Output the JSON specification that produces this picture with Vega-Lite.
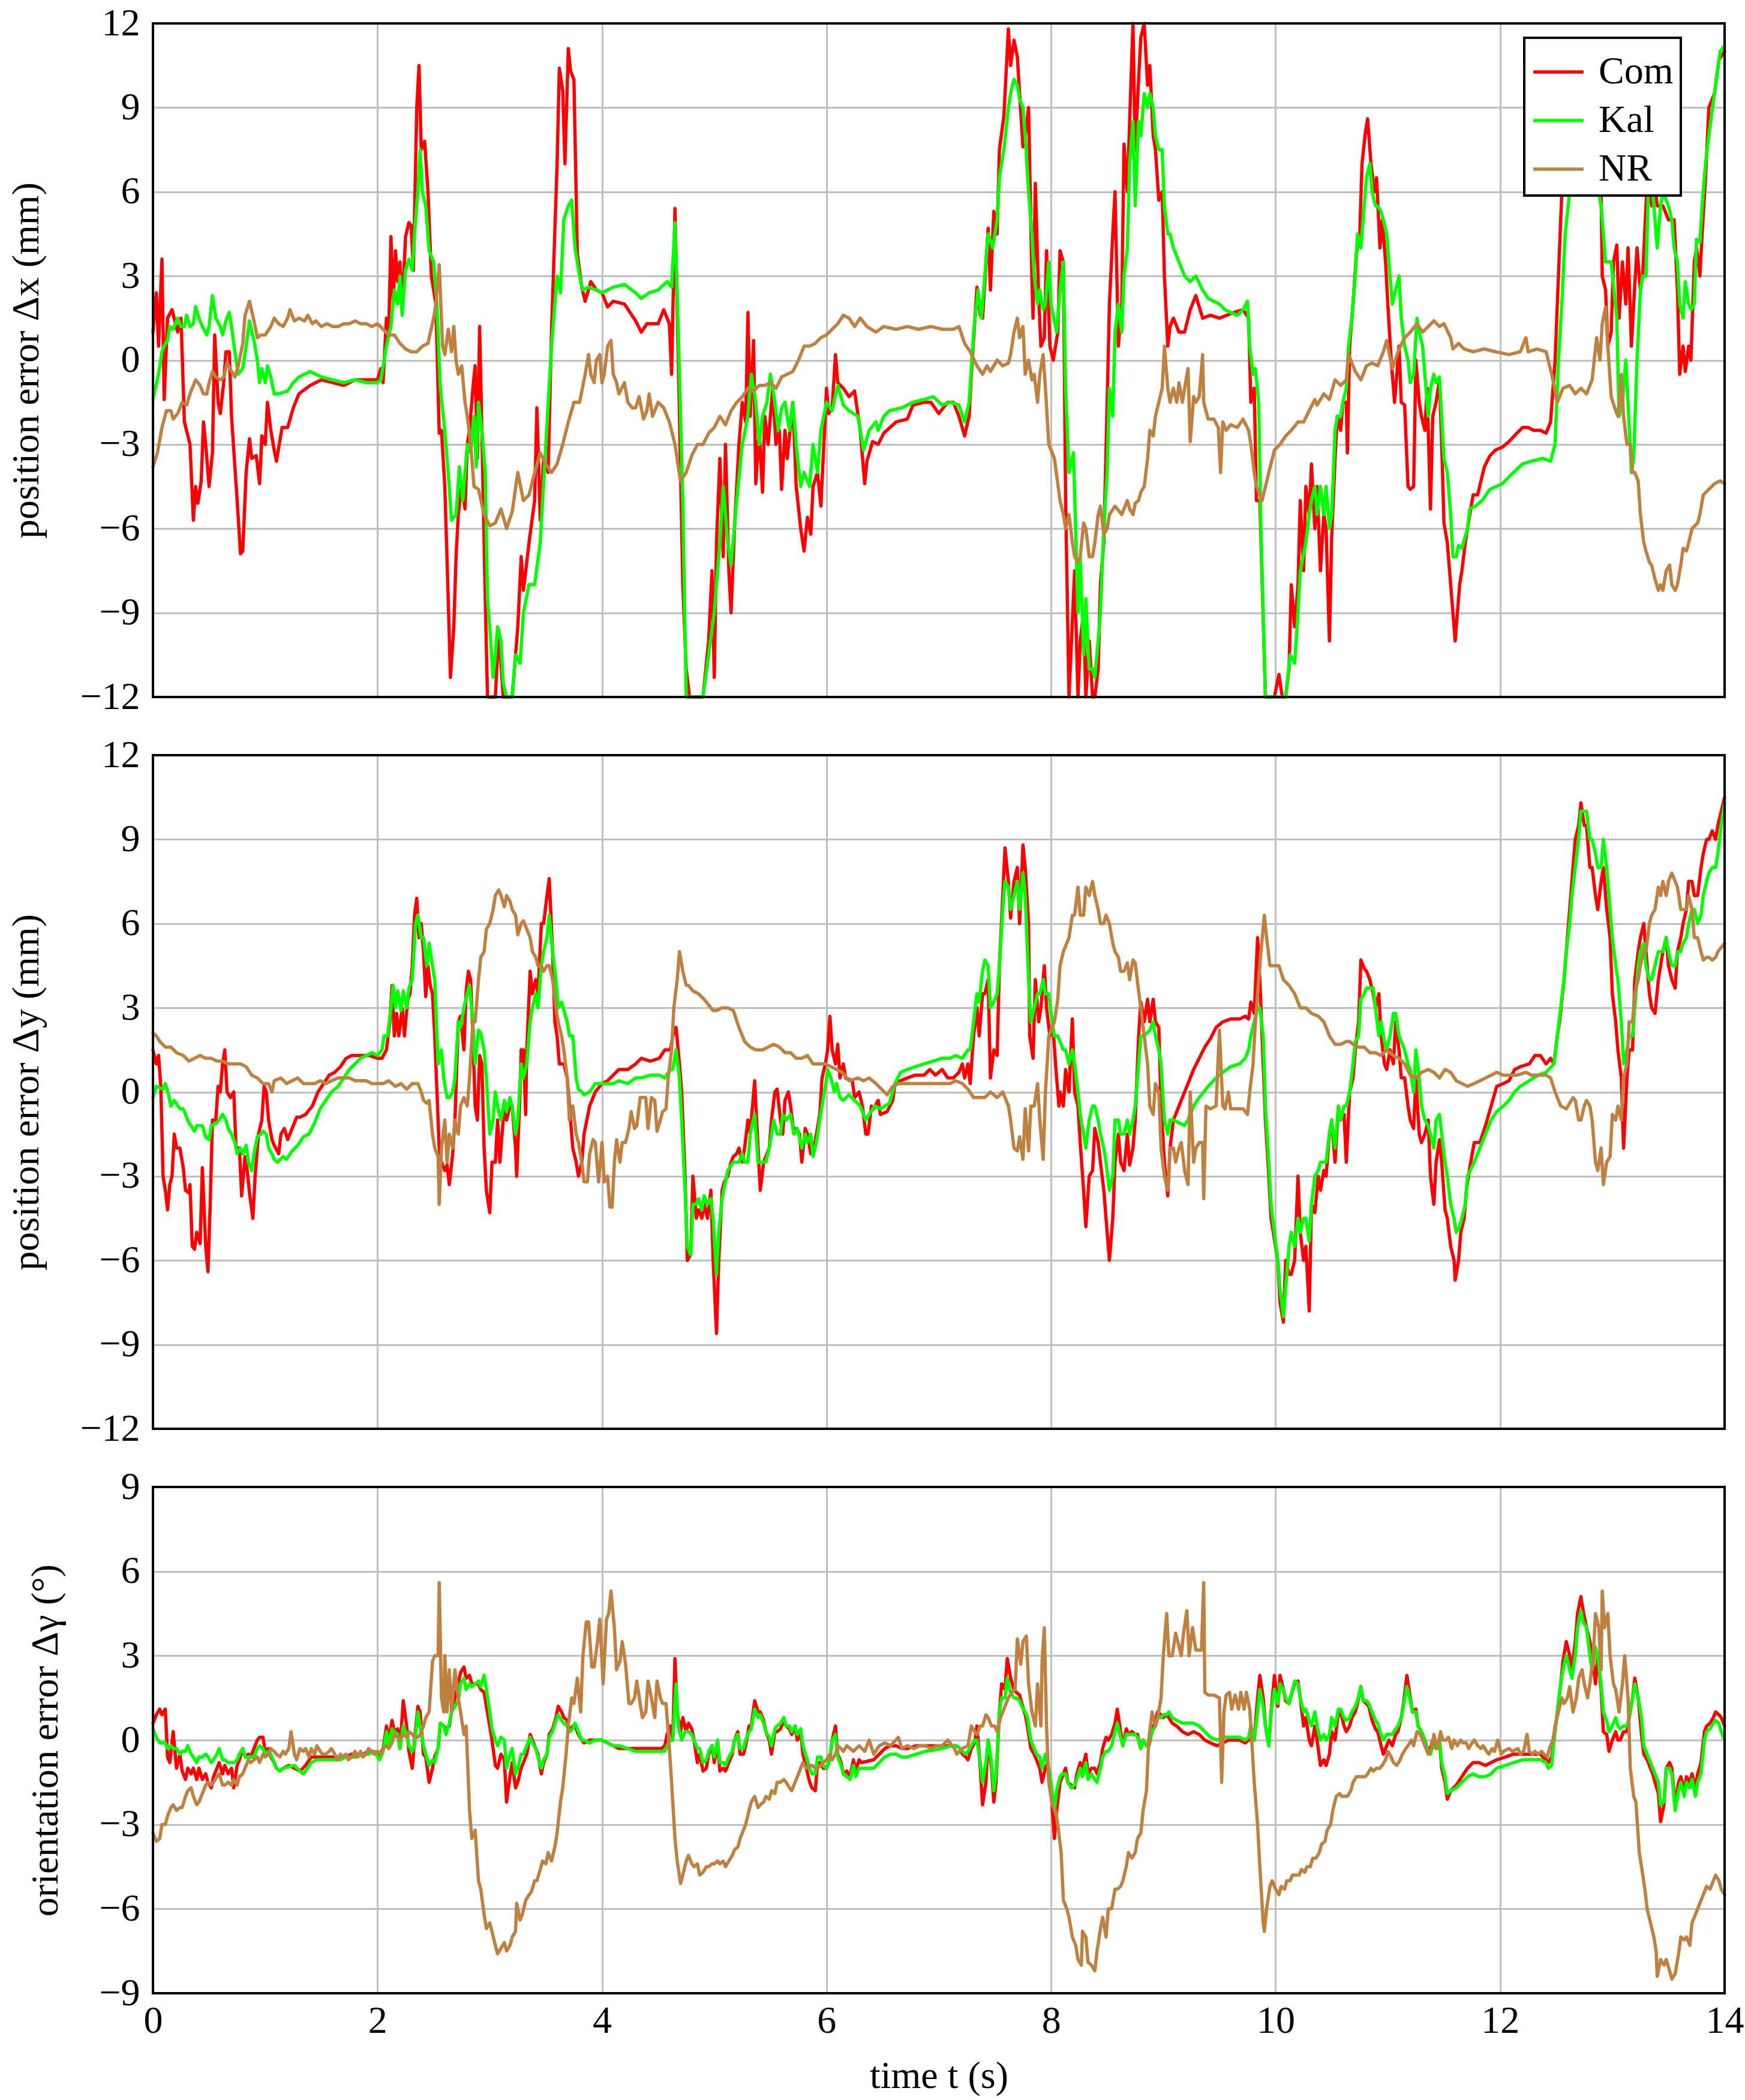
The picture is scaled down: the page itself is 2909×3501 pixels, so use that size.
{
  "$schema": "https://vega.github.io/schema/vega-lite/v6.json",
  "background": "white",
  "padding": {"left": 10, "top": 5, "right": 20, "bottom": 10},
  "config": {
    "font": "Liberation Serif",
    "view": {"stroke": "black", "strokeWidth": 4},
    "style": {"cell": {"strokeForeground": true}},
    "axis": {
      "labelFont": "Liberation Serif", "labelFontSize": 64, "labelColor": "black",
      "titleFont": "Liberation Serif", "titleFontSize": 64, "titleFontWeight": "normal", "titleColor": "black",
      "grid": true, "gridColor": "#bfbfbf", "gridWidth": 3,
      "domain": false, "ticks": false, "tickSize": 0,
      "labelFlush": false, "labelOverlap": false, "labelBound": false
    },
    "axisX": {"labelPadding": 14, "titlePadding": 28},
    "axisY": {"labelPadding": 22, "titlePadding": 56},
    "line": {"strokeWidth": 5.5, "clip": true, "strokeJoin": "round", "strokeCap": "round"},
    "legend": {"strokeWidth": 4}
  },
  "datasets": {
    "x_com": [
      {"t":0,"v":1.0},{"t":0.03,"v":2.4},{"t":0.05,"v":0.5},{"t":0.08,"v":3.6},{"t":0.1,"v":-1.4},{"t":0.13,"v":1.5},{"t":0.17,"v":1.8},{"t":0.22,"v":1.0},{"t":0.25,"v":1.5},{"t":0.28,"v":-2.2},{"t":0.33,"v":-3.0},{"t":0.36,"v":-5.7},{"t":0.38,"v":-4.5},{"t":0.4,"v":-5.1},{"t":0.43,"v":-4.3},{"t":0.45,"v":-2.2},{"t":0.47,"v":-3.0},{"t":0.5,"v":-4.5},{"t":0.53,"v":-3.3},{"t":0.55,"v":0.9},{"t":0.58,"v":-1.5},{"t":0.6,"v":-1.9},{"t":0.63,"v":-0.8},{"t":0.65,"v":0.3},{"t":0.68,"v":0.3},{"t":0.7,"v":-2.0},{"t":0.75,"v":-5.0},{"t":0.78,"v":-6.9},{"t":0.8,"v":-6.8},{"t":0.83,"v":-4.0},{"t":0.86,"v":-2.8},{"t":0.88,"v":-3.5},{"t":0.92,"v":-3.4},{"t":0.95,"v":-4.4},{"t":0.97,"v":-2.7},{"t":1.0,"v":-3.0},{"t":1.02,"v":-1.5},{"t":1.05,"v":-2.5},{"t":1.08,"v":-3.2},{"t":1.1,"v":-3.6},{"t":1.15,"v":-2.4},{"t":1.2,"v":-2.4},{"t":1.25,"v":-1.7},{"t":1.3,"v":-1.2},{"t":1.4,"v":-0.9},{"t":1.5,"v":-0.7},{"t":1.6,"v":-0.8},{"t":1.7,"v":-0.9},{"t":1.8,"v":-0.7},{"t":1.9,"v":-0.7},{"t":2.0,"v":-0.7},{"t":2.03,"v":-0.3},{"t":2.05,"v":-0.8},{"t":2.08,"v":1.5},{"t":2.1,"v":1.0},{"t":2.12,"v":4.4},{"t":2.14,"v":2.0},{"t":2.16,"v":3.9},{"t":2.18,"v":2.8},{"t":2.2,"v":3.5},{"t":2.22,"v":1.8},{"t":2.25,"v":4.4},{"t":2.28,"v":4.9},{"t":2.3,"v":4.8},{"t":2.32,"v":3.2},{"t":2.35,"v":9.0},{"t":2.37,"v":10.5},{"t":2.39,"v":7.5},{"t":2.42,"v":7.8},{"t":2.45,"v":6.0},{"t":2.48,"v":3.0},{"t":2.52,"v":2.0},{"t":2.55,"v":-2.6},{"t":2.57,"v":-2.5},{"t":2.6,"v":-4.5},{"t":2.63,"v":-8.5},{"t":2.65,"v":-11.3},{"t":2.68,"v":-9.5},{"t":2.7,"v":-7.0},{"t":2.72,"v":-5.5},{"t":2.75,"v":-4.4},{"t":2.78,"v":-5.3},{"t":2.8,"v":-3.0},{"t":2.82,"v":-2.5},{"t":2.85,"v":-1.0},{"t":2.87,"v":-0.2},{"t":2.89,"v":-3.5},{"t":2.91,"v":1.2},{"t":2.93,"v":-2.5},{"t":2.96,"v":-8.5},{"t":2.98,"v":-12},{"t":3.05,"v":-12},{"t":3.08,"v":-9.6},{"t":3.12,"v":-12},{"t":3.2,"v":-12},{"t":3.25,"v":-9.5},{"t":3.28,"v":-7.0},{"t":3.3,"v":-8.2},{"t":3.35,"v":-6.5},{"t":3.4,"v":-5.0},{"t":3.42,"v":-1.7},{"t":3.45,"v":-5.7},{"t":3.48,"v":-3.5},{"t":3.52,"v":-4.0},{"t":3.55,"v":1.0},{"t":3.6,"v":7.0},{"t":3.62,"v":10.4},{"t":3.65,"v":9.6},{"t":3.67,"v":7.0},{"t":3.7,"v":11.1},{"t":3.72,"v":10.3},{"t":3.75,"v":10.0},{"t":3.78,"v":3.8},{"t":3.82,"v":2.6},{"t":3.85,"v":2.1},{"t":3.9,"v":2.8},{"t":3.95,"v":2.5},{"t":4.0,"v":2.4},{"t":4.05,"v":1.9},{"t":4.1,"v":2.1},{"t":4.2,"v":2.0},{"t":4.3,"v":1.4},{"t":4.35,"v":1.0},{"t":4.4,"v":1.3},{"t":4.5,"v":1.3},{"t":4.55,"v":1.8},{"t":4.6,"v":1.3},{"t":4.62,"v":-0.5},{"t":4.65,"v":5.4},{"t":4.68,"v":0},{"t":4.72,"v":-8.0},{"t":4.75,"v":-11},{"t":4.78,"v":-12},{"t":4.9,"v":-12},{"t":4.95,"v":-10},{"t":4.98,"v":-7.5},{"t":5.0,"v":-11.3},{"t":5.02,"v":-6.5},{"t":5.05,"v":-3.5},{"t":5.08,"v":-7.0},{"t":5.1,"v":-3.0},{"t":5.13,"v":-7.5},{"t":5.15,"v":-9.0},{"t":5.18,"v":-6.0},{"t":5.22,"v":-3.0},{"t":5.25,"v":-1.5},{"t":5.28,"v":-2.2},{"t":5.3,"v":1.7},{"t":5.32,"v":-2.0},{"t":5.35,"v":0.7},{"t":5.37,"v":-4.4},{"t":5.4,"v":-2.5},{"t":5.43,"v":-4.7},{"t":5.45,"v":-2.0},{"t":5.48,"v":-3.0},{"t":5.52,"v":-1.0},{"t":5.55,"v":-3.0},{"t":5.58,"v":-2.5},{"t":5.6,"v":-4.6},{"t":5.63,"v":-2.5},{"t":5.65,"v":-3.5},{"t":5.7,"v":-1.5},{"t":5.73,"v":-4.5},{"t":5.77,"v":-6.0},{"t":5.8,"v":-6.8},{"t":5.83,"v":-5.6},{"t":5.86,"v":-6.2},{"t":5.88,"v":-4.5},{"t":5.92,"v":-4.0},{"t":5.95,"v":-5.2},{"t":6.0,"v":-1.0},{"t":6.02,"v":-1.9},{"t":6.05,"v":-1.7},{"t":6.08,"v":0.2},{"t":6.1,"v":-0.8},{"t":6.15,"v":-1.0},{"t":6.2,"v":-1.3},{"t":6.25,"v":-1.1},{"t":6.3,"v":-2.5},{"t":6.34,"v":-4.4},{"t":6.36,"v":-3.6},{"t":6.41,"v":-2.9},{"t":6.46,"v":-3.0},{"t":6.51,"v":-2.6},{"t":6.62,"v":-2.2},{"t":6.72,"v":-2.1},{"t":6.77,"v":-1.6},{"t":6.87,"v":-1.5},{"t":6.93,"v":-1.5},{"t":7.0,"v":-1.9},{"t":7.08,"v":-1.5},{"t":7.13,"v":-1.5},{"t":7.18,"v":-2.0},{"t":7.23,"v":-2.7},{"t":7.27,"v":-2.0},{"t":7.29,"v":-0.5},{"t":7.34,"v":2.6},{"t":7.37,"v":1.6},{"t":7.39,"v":1.5},{"t":7.44,"v":4.7},{"t":7.46,"v":2.5},{"t":7.49,"v":5.3},{"t":7.52,"v":4.5},{"t":7.54,"v":7.5},{"t":7.58,"v":8.7},{"t":7.62,"v":11.8},{"t":7.64,"v":10.5},{"t":7.67,"v":11.4},{"t":7.7,"v":10.8},{"t":7.72,"v":9.5},{"t":7.75,"v":7.6},{"t":7.77,"v":8.0},{"t":7.8,"v":9.0},{"t":7.83,"v":2.8},{"t":7.84,"v":1.5},{"t":7.86,"v":6.3},{"t":7.89,"v":2.2},{"t":7.91,"v":0.5},{"t":7.94,"v":0.8},{"t":7.96,"v":3.9},{"t":7.99,"v":0.5},{"t":8.02,"v":0.0},{"t":8.06,"v":1.0},{"t":8.08,"v":3.9},{"t":8.11,"v":3.5},{"t":8.13,"v":-5},{"t":8.16,"v":-12},{"t":8.21,"v":-7.5},{"t":8.24,"v":-12},{"t":8.26,"v":-10.0},{"t":8.29,"v":-9.0},{"t":8.31,"v":-12},{"t":8.34,"v":-10},{"t":8.37,"v":-12},{"t":8.39,"v":-12},{"t":8.42,"v":-11},{"t":8.44,"v":-8.0},{"t":8.47,"v":-6.5},{"t":8.5,"v":-1.5},{"t":8.52,"v":2.0},{"t":8.55,"v":4.5},{"t":8.57,"v":6.0},{"t":8.6,"v":0.5},{"t":8.63,"v":2.0},{"t":8.65,"v":7.7},{"t":8.68,"v":6.0},{"t":8.7,"v":8.5},{"t":8.73,"v":12.0},{"t":8.75,"v":7.5},{"t":8.78,"v":10.0},{"t":8.8,"v":11.5},{"t":8.83,"v":12},{"t":8.86,"v":9.8},{"t":8.88,"v":10.5},{"t":8.91,"v":8.0},{"t":8.93,"v":7.5},{"t":8.96,"v":5.7},{"t":8.99,"v":6.0},{"t":9.01,"v":3.0},{"t":9.04,"v":0.5},{"t":9.06,"v":1.2},{"t":9.09,"v":1.5},{"t":9.14,"v":1.0},{"t":9.19,"v":1.0},{"t":9.24,"v":1.8},{"t":9.29,"v":2.3},{"t":9.35,"v":1.5},{"t":9.42,"v":1.6},{"t":9.5,"v":1.5},{"t":9.63,"v":1.7},{"t":9.71,"v":1.8},{"t":9.76,"v":1.5},{"t":9.78,"v":-1.5},{"t":9.81,"v":-1.0},{"t":9.83,"v":-5.0},{"t":9.86,"v":-5.0},{"t":9.91,"v":-12},{"t":9.99,"v":-12},{"t":10.03,"v":-11.2},{"t":10.06,"v":-12},{"t":10.09,"v":-12},{"t":10.12,"v":-11},{"t":10.14,"v":-8.0},{"t":10.17,"v":-9.5},{"t":10.2,"v":-8.0},{"t":10.22,"v":-5.0},{"t":10.25,"v":-7.5},{"t":10.27,"v":-4.5},{"t":10.3,"v":-5.5},{"t":10.32,"v":-3.7},{"t":10.35,"v":-6.0},{"t":10.37,"v":-4.5},{"t":10.4,"v":-7.5},{"t":10.43,"v":-5.5},{"t":10.45,"v":-6.0},{"t":10.48,"v":-10.0},{"t":10.5,"v":-6.3},{"t":10.53,"v":-3.5},{"t":10.55,"v":-2.0},{"t":10.58,"v":-2.5},{"t":10.6,"v":-1.5},{"t":10.63,"v":-1.5},{"t":10.64,"v":-3.3},{"t":10.66,"v":0.5},{"t":10.69,"v":2.0},{"t":10.72,"v":3.8},{"t":10.75,"v":4.5},{"t":10.77,"v":7.0},{"t":10.8,"v":8.1},{"t":10.82,"v":8.6},{"t":10.85,"v":7.0},{"t":10.88,"v":6.0},{"t":10.9,"v":6.5},{"t":10.93,"v":4.0},{"t":10.95,"v":5.0},{"t":10.98,"v":3.5},{"t":11.0,"v":2.0},{"t":11.03,"v":0},{"t":11.06,"v":-1.5},{"t":11.08,"v":-0.5},{"t":11.1,"v":0.5},{"t":11.12,"v":-1.5},{"t":11.15,"v":-1.6},{"t":11.18,"v":-4.5},{"t":11.2,"v":-4.6},{"t":11.23,"v":-4.5},{"t":11.25,"v":0},{"t":11.28,"v":-1.5},{"t":11.3,"v":-2.0},{"t":11.33,"v":-2.5},{"t":11.35,"v":-1.0},{"t":11.38,"v":-5.3},{"t":11.4,"v":-2.0},{"t":11.43,"v":-1.5},{"t":11.46,"v":-0.7},{"t":11.48,"v":-3.0},{"t":11.5,"v":-5.8},{"t":11.53,"v":-6.5},{"t":11.56,"v":-8.0},{"t":11.58,"v":-9.0},{"t":11.6,"v":-10.0},{"t":11.62,"v":-9.0},{"t":11.64,"v":-8.0},{"t":11.66,"v":-7.5},{"t":11.69,"v":-6.5},{"t":11.73,"v":-5.5},{"t":11.76,"v":-4.8},{"t":11.8,"v":-4.8},{"t":11.86,"v":-3.8},{"t":11.91,"v":-3.4},{"t":11.96,"v":-3.2},{"t":12.02,"v":-3.1},{"t":12.08,"v":-2.9},{"t":12.15,"v":-2.6},{"t":12.2,"v":-2.4},{"t":12.25,"v":-2.4},{"t":12.3,"v":-2.5},{"t":12.36,"v":-2.5},{"t":12.41,"v":-2.6},{"t":12.45,"v":-2.2},{"t":12.49,"v":0.0},{"t":12.52,"v":3.0},{"t":12.55,"v":6.0},{"t":12.58,"v":7.0},{"t":12.65,"v":8.0},{"t":12.72,"v":8.5},{"t":12.8,"v":8.0},{"t":12.86,"v":7.0},{"t":12.9,"v":6.0},{"t":12.91,"v":3.0},{"t":12.94,"v":2.5},{"t":12.96,"v":0.5},{"t":12.99,"v":1.0},{"t":13.01,"v":3.5},{"t":13.04,"v":4.1},{"t":13.06,"v":1.5},{"t":13.09,"v":3.5},{"t":13.12,"v":2.0},{"t":13.14,"v":4.0},{"t":13.17,"v":0.5},{"t":13.19,"v":2.0},{"t":13.22,"v":4.0},{"t":13.25,"v":2.5},{"t":13.27,"v":3.0},{"t":13.3,"v":5.5},{"t":13.32,"v":7.0},{"t":13.35,"v":5.5},{"t":13.37,"v":6.5},{"t":13.4,"v":5.5},{"t":13.45,"v":5.5},{"t":13.5,"v":5.0},{"t":13.55,"v":5.0},{"t":13.58,"v":2.5},{"t":13.6,"v":-0.5},{"t":13.63,"v":0.5},{"t":13.65,"v":-0.4},{"t":13.68,"v":0.5},{"t":13.7,"v":0},{"t":13.73,"v":3.5},{"t":13.75,"v":4.0},{"t":13.78,"v":3.0},{"t":13.8,"v":4.5},{"t":13.83,"v":6.5},{"t":13.86,"v":9.0},{"t":13.91,"v":9.5},{"t":13.95,"v":10.7},{"t":14.0,"v":11.0}
    ],
    "x_kal": [
      {"t":0,"v":-1.4},{"t":0.05,"v":-0.5},{"t":0.08,"v":0.3},{"t":0.1,"v":0.5},{"t":0.13,"v":0.7},{"t":0.15,"v":1.2},{"t":0.18,"v":1.1},{"t":0.22,"v":1.5},{"t":0.25,"v":1.2},{"t":0.28,"v":1.2},{"t":0.3,"v":1.6},{"t":0.33,"v":1.2},{"t":0.36,"v":1.3},{"t":0.38,"v":1.9},{"t":0.41,"v":1.5},{"t":0.44,"v":1.2},{"t":0.48,"v":0.9},{"t":0.5,"v":1.2},{"t":0.53,"v":2.3},{"t":0.56,"v":1.5},{"t":0.6,"v":1.2},{"t":0.62,"v":0.9},{"t":0.65,"v":1.4},{"t":0.68,"v":1.7},{"t":0.7,"v":1.2},{"t":0.73,"v":0.3},{"t":0.76,"v":-0.5},{"t":0.8,"v":-0.3},{"t":0.83,"v":0.5},{"t":0.86,"v":1.4},{"t":0.9,"v":0.7},{"t":0.93,"v":0},{"t":0.95,"v":-0.8},{"t":0.97,"v":-0.3},{"t":1.0,"v":-0.8},{"t":1.02,"v":-0.2},{"t":1.05,"v":-0.6},{"t":1.08,"v":-1.2},{"t":1.12,"v":-1.2},{"t":1.2,"v":-1.1},{"t":1.25,"v":-0.8},{"t":1.3,"v":-0.6},{"t":1.4,"v":-0.4},{"t":1.5,"v":-0.6},{"t":1.6,"v":-0.7},{"t":1.7,"v":-0.8},{"t":1.8,"v":-0.7},{"t":1.9,"v":-0.8},{"t":2.0,"v":-0.8},{"t":2.03,"v":-0.7},{"t":2.08,"v":0.5},{"t":2.12,"v":1.2},{"t":2.15,"v":2.5},{"t":2.18,"v":2.0},{"t":2.2,"v":3.0},{"t":2.22,"v":1.6},{"t":2.25,"v":3.2},{"t":2.28,"v":3.6},{"t":2.31,"v":3.2},{"t":2.33,"v":4.5},{"t":2.36,"v":6.0},{"t":2.38,"v":7.5},{"t":2.4,"v":6.0},{"t":2.43,"v":5.5},{"t":2.46,"v":3.9},{"t":2.5,"v":3.5},{"t":2.53,"v":2.0},{"t":2.56,"v":-1.0},{"t":2.6,"v":-2.5},{"t":2.63,"v":-4.0},{"t":2.66,"v":-5.7},{"t":2.7,"v":-5.5},{"t":2.73,"v":-3.8},{"t":2.76,"v":-5.0},{"t":2.8,"v":-3.0},{"t":2.83,"v":-3.3},{"t":2.86,"v":-2.0},{"t":2.88,"v":-3.8},{"t":2.9,"v":-1.5},{"t":2.93,"v":-2.5},{"t":2.96,"v":-4.0},{"t":2.98,"v":-8.5},{"t":3.0,"v":-9.5},{"t":3.03,"v":-11.3},{"t":3.05,"v":-10.5},{"t":3.07,"v":-9.5},{"t":3.1,"v":-10.0},{"t":3.12,"v":-11.5},{"t":3.15,"v":-12},{"t":3.2,"v":-12},{"t":3.23,"v":-10.5},{"t":3.27,"v":-10.8},{"t":3.3,"v":-9.0},{"t":3.35,"v":-8.0},{"t":3.4,"v":-8.0},{"t":3.45,"v":-6.5},{"t":3.5,"v":-3.0},{"t":3.55,"v":0.5},{"t":3.6,"v":3.0},{"t":3.63,"v":2.4},{"t":3.66,"v":5.0},{"t":3.7,"v":5.5},{"t":3.73,"v":5.7},{"t":3.76,"v":4.0},{"t":3.8,"v":3.0},{"t":3.83,"v":2.5},{"t":3.88,"v":2.6},{"t":3.95,"v":2.5},{"t":4.0,"v":2.4},{"t":4.1,"v":2.6},{"t":4.2,"v":2.7},{"t":4.3,"v":2.4},{"t":4.35,"v":2.2},{"t":4.42,"v":2.4},{"t":4.5,"v":2.5},{"t":4.58,"v":2.8},{"t":4.62,"v":2.6},{"t":4.65,"v":4.9},{"t":4.68,"v":1.0},{"t":4.72,"v":-5.0},{"t":4.75,"v":-12},{"t":4.9,"v":-12},{"t":4.95,"v":-10.5},{"t":5.0,"v":-9.0},{"t":5.05,"v":-6.5},{"t":5.08,"v":-4.5},{"t":5.12,"v":-6.5},{"t":5.15,"v":-7.3},{"t":5.2,"v":-5.0},{"t":5.25,"v":-3.0},{"t":5.3,"v":-2.0},{"t":5.33,"v":-0.5},{"t":5.37,"v":-1.5},{"t":5.4,"v":-3.0},{"t":5.43,"v":-2.0},{"t":5.47,"v":-1.5},{"t":5.5,"v":-0.5},{"t":5.53,"v":-1.2},{"t":5.57,"v":-2.5},{"t":5.6,"v":-1.7},{"t":5.63,"v":-1.5},{"t":5.67,"v":-2.5},{"t":5.7,"v":-1.5},{"t":5.73,"v":-3.0},{"t":5.77,"v":-4.5},{"t":5.8,"v":-4.0},{"t":5.85,"v":-4.5},{"t":5.88,"v":-3.0},{"t":5.92,"v":-4.0},{"t":5.95,"v":-2.5},{"t":6.0,"v":-1.5},{"t":6.05,"v":-1.8},{"t":6.1,"v":-0.9},{"t":6.15,"v":-1.6},{"t":6.2,"v":-1.8},{"t":6.28,"v":-2.0},{"t":6.33,"v":-3.2},{"t":6.38,"v":-2.5},{"t":6.44,"v":-2.2},{"t":6.46,"v":-2.5},{"t":6.51,"v":-2.0},{"t":6.56,"v":-1.8},{"t":6.67,"v":-1.7},{"t":6.77,"v":-1.5},{"t":6.87,"v":-1.4},{"t":6.95,"v":-1.3},{"t":7.03,"v":-1.6},{"t":7.1,"v":-1.5},{"t":7.18,"v":-1.6},{"t":7.23,"v":-2.2},{"t":7.27,"v":-1.5},{"t":7.31,"v":1.0},{"t":7.35,"v":2.5},{"t":7.38,"v":1.5},{"t":7.41,"v":3.0},{"t":7.44,"v":4.5},{"t":7.48,"v":4.0},{"t":7.52,"v":5.0},{"t":7.54,"v":6.5},{"t":7.58,"v":7.5},{"t":7.62,"v":9.0},{"t":7.64,"v":9.5},{"t":7.67,"v":10.0},{"t":7.7,"v":9.8},{"t":7.72,"v":9.3},{"t":7.75,"v":9.0},{"t":7.77,"v":8.0},{"t":7.8,"v":6.0},{"t":7.83,"v":4.5},{"t":7.85,"v":3.0},{"t":7.88,"v":2.0},{"t":7.9,"v":2.5},{"t":7.93,"v":1.8},{"t":7.95,"v":2.0},{"t":7.98,"v":3.5},{"t":8.0,"v":2.0},{"t":8.05,"v":1.0},{"t":8.08,"v":2.5},{"t":8.11,"v":3.5},{"t":8.13,"v":-1.0},{"t":8.16,"v":-4.0},{"t":8.2,"v":-3.3},{"t":8.24,"v":-9.0},{"t":8.26,"v":-7.0},{"t":8.29,"v":-10.5},{"t":8.31,"v":-8.5},{"t":8.34,"v":-11.0},{"t":8.37,"v":-11.0},{"t":8.39,"v":-11.3},{"t":8.42,"v":-10.0},{"t":8.44,"v":-9.0},{"t":8.47,"v":-6.0},{"t":8.5,"v":-4.0},{"t":8.52,"v":-1.0},{"t":8.55,"v":-2.0},{"t":8.57,"v":1.0},{"t":8.6,"v":2.0},{"t":8.63,"v":1.0},{"t":8.65,"v":3.0},{"t":8.68,"v":4.0},{"t":8.7,"v":7.0},{"t":8.73,"v":8.5},{"t":8.75,"v":5.5},{"t":8.78,"v":8.5},{"t":8.8,"v":8.0},{"t":8.83,"v":9.5},{"t":8.86,"v":9.0},{"t":8.88,"v":9.5},{"t":8.91,"v":9.0},{"t":8.93,"v":8.0},{"t":8.96,"v":7.5},{"t":8.99,"v":7.5},{"t":9.01,"v":5.5},{"t":9.04,"v":4.5},{"t":9.06,"v":4.5},{"t":9.09,"v":4.0},{"t":9.14,"v":3.5},{"t":9.19,"v":3.0},{"t":9.24,"v":2.8},{"t":9.29,"v":3.0},{"t":9.35,"v":2.5},{"t":9.4,"v":2.2},{"t":9.45,"v":2.1},{"t":9.5,"v":2.0},{"t":9.55,"v":1.8},{"t":9.6,"v":1.7},{"t":9.66,"v":1.6},{"t":9.71,"v":1.8},{"t":9.75,"v":2.1},{"t":9.77,"v":0.5},{"t":9.8,"v":-0.5},{"t":9.82,"v":-0.3},{"t":9.85,"v":-1.5},{"t":9.87,"v":-6.0},{"t":9.91,"v":-12},{"t":10.09,"v":-12},{"t":10.13,"v":-10.5},{"t":10.17,"v":-10.8},{"t":10.2,"v":-9.0},{"t":10.22,"v":-7.5},{"t":10.27,"v":-6.5},{"t":10.3,"v":-5.5},{"t":10.32,"v":-5.0},{"t":10.35,"v":-4.5},{"t":10.37,"v":-5.5},{"t":10.4,"v":-4.5},{"t":10.43,"v":-5.5},{"t":10.45,"v":-4.5},{"t":10.48,"v":-6.0},{"t":10.5,"v":-5.5},{"t":10.53,"v":-2.5},{"t":10.55,"v":-2.0},{"t":10.58,"v":-2.0},{"t":10.6,"v":-1.5},{"t":10.63,"v":-1.0},{"t":10.65,"v":0.5},{"t":10.68,"v":1.5},{"t":10.71,"v":3.0},{"t":10.73,"v":4.5},{"t":10.76,"v":4.0},{"t":10.79,"v":5.5},{"t":10.81,"v":6.5},{"t":10.84,"v":7.0},{"t":10.86,"v":6.0},{"t":10.89,"v":5.5},{"t":10.91,"v":5.5},{"t":10.94,"v":5.3},{"t":10.96,"v":5.0},{"t":10.99,"v":4.5},{"t":11.01,"v":3.5},{"t":11.04,"v":2.0},{"t":11.07,"v":2.5},{"t":11.1,"v":3.0},{"t":11.12,"v":1.5},{"t":11.15,"v":0.5},{"t":11.18,"v":0.0},{"t":11.2,"v":-0.8},{"t":11.23,"v":-0.5},{"t":11.26,"v":1.5},{"t":11.28,"v":1.0},{"t":11.31,"v":0.5},{"t":11.33,"v":-0.5},{"t":11.36,"v":-2.0},{"t":11.38,"v":-1.0},{"t":11.41,"v":-0.5},{"t":11.43,"v":-0.8},{"t":11.46,"v":-0.6},{"t":11.48,"v":-2.0},{"t":11.5,"v":-3.5},{"t":11.53,"v":-4.0},{"t":11.56,"v":-5.5},{"t":11.58,"v":-7.0},{"t":11.61,"v":-7.0},{"t":11.63,"v":-6.6},{"t":11.66,"v":-6.7},{"t":11.71,"v":-6.0},{"t":11.73,"v":-5.3},{"t":11.78,"v":-5.2},{"t":11.84,"v":-5.0},{"t":11.91,"v":-4.6},{"t":12.02,"v":-4.4},{"t":12.12,"v":-4.0},{"t":12.2,"v":-3.7},{"t":12.28,"v":-3.6},{"t":12.38,"v":-3.5},{"t":12.45,"v":-3.6},{"t":12.49,"v":-3.0},{"t":12.52,"v":0.0},{"t":12.55,"v":2.0},{"t":12.58,"v":4.5},{"t":12.62,"v":6.0},{"t":12.67,"v":7.5},{"t":12.75,"v":8.0},{"t":12.83,"v":7.0},{"t":12.9,"v":5.5},{"t":12.94,"v":3.5},{"t":12.99,"v":3.5},{"t":13.04,"v":1.5},{"t":13.06,"v":-2.0},{"t":13.09,"v":-1.5},{"t":13.12,"v":0},{"t":13.14,"v":-1.5},{"t":13.17,"v":-4.0},{"t":13.19,"v":-3.5},{"t":13.22,"v":0},{"t":13.25,"v":2.5},{"t":13.27,"v":3.0},{"t":13.3,"v":3.0},{"t":13.32,"v":6.0},{"t":13.35,"v":6.5},{"t":13.37,"v":5.5},{"t":13.4,"v":4.0},{"t":13.43,"v":5.5},{"t":13.45,"v":6.0},{"t":13.5,"v":5.5},{"t":13.53,"v":5.0},{"t":13.55,"v":4.0},{"t":13.58,"v":3.5},{"t":13.6,"v":2.0},{"t":13.63,"v":1.5},{"t":13.65,"v":2.8},{"t":13.68,"v":2.0},{"t":13.7,"v":1.8},{"t":13.73,"v":2.0},{"t":13.75,"v":4.3},{"t":13.78,"v":4.2},{"t":13.8,"v":5.5},{"t":13.83,"v":7.0},{"t":13.86,"v":8.0},{"t":13.91,"v":9.5},{"t":13.96,"v":11.0},{"t":14.0,"v":11.2}
    ],
    "x_nr": [
      {"t":0,"v":-3.8},{"t":0.04,"v":-3.3},{"t":0.08,"v":-2.4},{"t":0.12,"v":-1.8},{"t":0.16,"v":-1.8},{"t":0.18,"v":-2.1},{"t":0.22,"v":-1.9},{"t":0.26,"v":-1.5},{"t":0.3,"v":-1.6},{"t":0.33,"v":-1.2},{"t":0.36,"v":-0.9},{"t":0.38,"v":-0.7},{"t":0.42,"v":-0.9},{"t":0.45,"v":-1.2},{"t":0.48,"v":-1.2},{"t":0.5,"v":-0.8},{"t":0.53,"v":-0.4},{"t":0.56,"v":-0.6},{"t":0.6,"v":-0.7},{"t":0.63,"v":-0.6},{"t":0.66,"v":-0.1},{"t":0.7,"v":-0.4},{"t":0.73,"v":-0.6},{"t":0.76,"v":-0.2},{"t":0.8,"v":0.6},{"t":0.82,"v":1.6},{"t":0.86,"v":2.1},{"t":0.9,"v":1.4},{"t":0.93,"v":0.8},{"t":0.96,"v":0.9},{"t":1.0,"v":0.9},{"t":1.05,"v":1.2},{"t":1.08,"v":1.5},{"t":1.12,"v":1.3},{"t":1.16,"v":1.2},{"t":1.2,"v":1.5},{"t":1.22,"v":1.8},{"t":1.26,"v":1.4},{"t":1.3,"v":1.5},{"t":1.35,"v":1.4},{"t":1.38,"v":1.6},{"t":1.42,"v":1.3},{"t":1.45,"v":1.4},{"t":1.5,"v":1.2},{"t":1.55,"v":1.3},{"t":1.6,"v":1.2},{"t":1.65,"v":1.2},{"t":1.7,"v":1.3},{"t":1.75,"v":1.3},{"t":1.8,"v":1.4},{"t":1.85,"v":1.3},{"t":1.9,"v":1.3},{"t":1.95,"v":1.2},{"t":2.0,"v":1.3},{"t":2.05,"v":1.1},{"t":2.1,"v":0.9},{"t":2.15,"v":0.9},{"t":2.2,"v":0.6},{"t":2.25,"v":0.4},{"t":2.3,"v":0.3},{"t":2.35,"v":0.3},{"t":2.4,"v":0.5},{"t":2.45,"v":0.6},{"t":2.5,"v":1.5},{"t":2.52,"v":2.0},{"t":2.55,"v":3.4},{"t":2.58,"v":0.5},{"t":2.6,"v":0.2},{"t":2.63,"v":1.1},{"t":2.66,"v":0.3},{"t":2.68,"v":1.2},{"t":2.7,"v":0},{"t":2.72,"v":-0.5},{"t":2.75,"v":-0.2},{"t":2.78,"v":-1.5},{"t":2.8,"v":-2.0},{"t":2.83,"v":-3.0},{"t":2.86,"v":-4.5},{"t":2.9,"v":-4.6},{"t":2.95,"v":-5.5},{"t":3.0,"v":-5.9},{"t":3.05,"v":-5.8},{"t":3.1,"v":-5.3},{"t":3.15,"v":-6.0},{"t":3.2,"v":-5.4},{"t":3.25,"v":-4.0},{"t":3.3,"v":-5.0},{"t":3.35,"v":-4.8},{"t":3.4,"v":-4.0},{"t":3.45,"v":-3.3},{"t":3.5,"v":-3.7},{"t":3.55,"v":-4.0},{"t":3.6,"v":-3.7},{"t":3.65,"v":-3.0},{"t":3.7,"v":-2.2},{"t":3.75,"v":-1.5},{"t":3.8,"v":-1.5},{"t":3.85,"v":-0.5},{"t":3.88,"v":0.2},{"t":3.9,"v":-0.5},{"t":3.93,"v":-0.8},{"t":3.95,"v":0.0},{"t":3.98,"v":0.2},{"t":4.0,"v":-0.8},{"t":4.02,"v":-0.5},{"t":4.05,"v":0.5},{"t":4.08,"v":0.7},{"t":4.1,"v":-0.5},{"t":4.13,"v":-0.8},{"t":4.15,"v":-1.2},{"t":4.2,"v":-0.8},{"t":4.23,"v":-1.5},{"t":4.27,"v":-1.7},{"t":4.3,"v":-1.7},{"t":4.33,"v":-1.3},{"t":4.37,"v":-2.1},{"t":4.4,"v":-1.8},{"t":4.42,"v":-1.2},{"t":4.45,"v":-2.0},{"t":4.5,"v":-1.5},{"t":4.55,"v":-1.7},{"t":4.6,"v":-2.2},{"t":4.65,"v":-3.0},{"t":4.68,"v":-3.8},{"t":4.7,"v":-4.3},{"t":4.75,"v":-4.0},{"t":4.8,"v":-3.4},{"t":4.85,"v":-3.0},{"t":4.9,"v":-3.0},{"t":4.95,"v":-2.6},{"t":5.0,"v":-2.4},{"t":5.05,"v":-2.0},{"t":5.1,"v":-2.3},{"t":5.15,"v":-1.8},{"t":5.2,"v":-1.5},{"t":5.25,"v":-1.3},{"t":5.3,"v":-1.0},{"t":5.35,"v":-1.1},{"t":5.4,"v":-0.9},{"t":5.45,"v":-0.9},{"t":5.5,"v":-0.8},{"t":5.55,"v":-1.0},{"t":5.6,"v":-0.6},{"t":5.65,"v":-0.5},{"t":5.7,"v":-0.4},{"t":5.75,"v":0},{"t":5.8,"v":0.5},{"t":5.85,"v":0.5},{"t":5.9,"v":0.6},{"t":5.95,"v":0.8},{"t":6.0,"v":0.9},{"t":6.05,"v":1.1},{"t":6.1,"v":1.3},{"t":6.15,"v":1.6},{"t":6.2,"v":1.5},{"t":6.25,"v":1.2},{"t":6.3,"v":1.5},{"t":6.36,"v":1.2},{"t":6.44,"v":1.0},{"t":6.51,"v":1.2},{"t":6.62,"v":1.1},{"t":6.72,"v":1.2},{"t":6.82,"v":1.1},{"t":6.93,"v":1.2},{"t":7.03,"v":1.1},{"t":7.13,"v":1.1},{"t":7.18,"v":1.2},{"t":7.23,"v":0.6},{"t":7.28,"v":0.3},{"t":7.34,"v":-0.2},{"t":7.39,"v":-0.5},{"t":7.43,"v":-0.2},{"t":7.46,"v":-0.4},{"t":7.52,"v":0},{"t":7.57,"v":-0.2},{"t":7.62,"v":-0.1},{"t":7.64,"v":0.2},{"t":7.67,"v":1.0},{"t":7.7,"v":1.5},{"t":7.72,"v":0.8},{"t":7.75,"v":1.2},{"t":7.77,"v":-0.5},{"t":7.8,"v":0},{"t":7.83,"v":-0.7},{"t":7.85,"v":-0.5},{"t":7.88,"v":-1.5},{"t":7.9,"v":-0.5},{"t":7.93,"v":0.2},{"t":7.95,"v":-1.0},{"t":7.98,"v":-3.0},{"t":8.03,"v":-3.5},{"t":8.08,"v":-5.0},{"t":8.11,"v":-5.5},{"t":8.13,"v":-6.0},{"t":8.16,"v":-5.5},{"t":8.19,"v":-6.5},{"t":8.21,"v":-7.0},{"t":8.24,"v":-7.2},{"t":8.26,"v":-7.0},{"t":8.29,"v":-5.8},{"t":8.31,"v":-6.0},{"t":8.34,"v":-7.0},{"t":8.37,"v":-7.0},{"t":8.39,"v":-6.5},{"t":8.42,"v":-5.5},{"t":8.44,"v":-5.2},{"t":8.47,"v":-6.2},{"t":8.5,"v":-6.0},{"t":8.52,"v":-5.5},{"t":8.57,"v":-5.2},{"t":8.63,"v":-5.5},{"t":8.68,"v":-5.0},{"t":8.7,"v":-5.3},{"t":8.73,"v":-5.5},{"t":8.75,"v":-5.1},{"t":8.78,"v":-5.0},{"t":8.8,"v":-4.7},{"t":8.83,"v":-4.5},{"t":8.86,"v":-3.5},{"t":8.88,"v":-2.5},{"t":8.91,"v":-2.7},{"t":8.93,"v":-2.0},{"t":8.96,"v":-1.5},{"t":8.99,"v":-1.0},{"t":9.01,"v":0.5},{"t":9.04,"v":-1.0},{"t":9.06,"v":-1.5},{"t":9.09,"v":-1.0},{"t":9.12,"v":-1.5},{"t":9.14,"v":-0.8},{"t":9.17,"v":-1.5},{"t":9.19,"v":-1.0},{"t":9.22,"v":-0.3},{"t":9.24,"v":-2.9},{"t":9.27,"v":-1.3},{"t":9.29,"v":-1.5},{"t":9.32,"v":-1.3},{"t":9.35,"v":0.2},{"t":9.36,"v":-1.5},{"t":9.4,"v":-2.1},{"t":9.45,"v":-2.1},{"t":9.49,"v":-2.4},{"t":9.51,"v":-4.0},{"t":9.53,"v":-2.2},{"t":9.56,"v":-2.5},{"t":9.6,"v":-2.3},{"t":9.66,"v":-2.4},{"t":9.71,"v":-2.1},{"t":9.76,"v":-2.5},{"t":9.78,"v":-3.0},{"t":9.81,"v":-4.0},{"t":9.83,"v":-4.5},{"t":9.88,"v":-5.0},{"t":9.94,"v":-4.0},{"t":9.99,"v":-3.2},{"t":10.04,"v":-3.0},{"t":10.09,"v":-2.7},{"t":10.14,"v":-2.5},{"t":10.2,"v":-2.2},{"t":10.25,"v":-2.2},{"t":10.3,"v":-1.8},{"t":10.35,"v":-1.4},{"t":10.37,"v":-1.6},{"t":10.43,"v":-1.2},{"t":10.48,"v":-1.4},{"t":10.53,"v":-0.7},{"t":10.58,"v":-0.9},{"t":10.63,"v":-0.7},{"t":10.65,"v":0.2},{"t":10.71,"v":-0.4},{"t":10.76,"v":-0.7},{"t":10.81,"v":-0.2},{"t":10.86,"v":-0.1},{"t":10.91,"v":-0.2},{"t":10.96,"v":0.3},{"t":10.99,"v":0.7},{"t":11.04,"v":-0.3},{"t":11.1,"v":0.4},{"t":11.15,"v":0.8},{"t":11.2,"v":1.0},{"t":11.26,"v":1.3},{"t":11.31,"v":1.0},{"t":11.36,"v":1.2},{"t":11.41,"v":1.4},{"t":11.46,"v":1.2},{"t":11.5,"v":1.3},{"t":11.56,"v":0.8},{"t":11.58,"v":0.4},{"t":11.63,"v":0.6},{"t":11.68,"v":0.4},{"t":11.76,"v":0.3},{"t":11.86,"v":0.4},{"t":11.96,"v":0.3},{"t":12.08,"v":0.2},{"t":12.18,"v":0.3},{"t":12.23,"v":0.8},{"t":12.25,"v":0.3},{"t":12.33,"v":0.4},{"t":12.41,"v":0.3},{"t":12.46,"v":-0.5},{"t":12.51,"v":-1.5},{"t":12.56,"v":-1.0},{"t":12.62,"v":-0.9},{"t":12.67,"v":-1.2},{"t":12.72,"v":-1.0},{"t":12.77,"v":-1.2},{"t":12.82,"v":-0.7},{"t":12.86,"v":0.8},{"t":12.89,"v":0.0},{"t":12.91,"v":1.3},{"t":12.94,"v":1.9},{"t":12.96,"v":0.5},{"t":12.99,"v":-1.3},{"t":13.03,"v":-1.8},{"t":13.05,"v":-2.0},{"t":13.08,"v":-0.5},{"t":13.1,"v":-2.0},{"t":13.13,"v":-3.0},{"t":13.16,"v":-3.0},{"t":13.18,"v":-4.0},{"t":13.2,"v":-4.0},{"t":13.23,"v":-4.3},{"t":13.25,"v":-5.5},{"t":13.28,"v":-6.5},{"t":13.3,"v":-6.8},{"t":13.33,"v":-7.2},{"t":13.35,"v":-7.3},{"t":13.38,"v":-7.8},{"t":13.41,"v":-8.2},{"t":13.43,"v":-8.0},{"t":13.45,"v":-8.2},{"t":13.48,"v":-7.5},{"t":13.51,"v":-7.3},{"t":13.53,"v":-8.0},{"t":13.56,"v":-8.2},{"t":13.58,"v":-8.0},{"t":13.61,"v":-7.3},{"t":13.63,"v":-6.7},{"t":13.66,"v":-6.8},{"t":13.68,"v":-6.5},{"t":13.71,"v":-6.0},{"t":13.76,"v":-5.8},{"t":13.78,"v":-5.5},{"t":13.81,"v":-4.8},{"t":13.86,"v":-4.6},{"t":13.91,"v":-4.4},{"t":13.96,"v":-4.3},{"t":14.0,"v":-4.4}
    ],
    "y_com": [
      {"t":0,"v":1.5},{"t":0.03,"v":1.0},{"t":0.05,"v":1.3},{"t":0.07,"v":0.2},{"t":0.09,"v":-3.0},{"t":0.11,"v":-3.5},{"t":0.13,"v":-4.2},{"t":0.15,"v":-3.3},{"t":0.17,"v":-3.0},{"t":0.19,"v":-1.5},{"t":0.21,"v":-2.0},{"t":0.24,"v":-2.0},{"t":0.27,"v":-2.7},{"t":0.29,"v":-3.5},{"t":0.32,"v":-3.6},{"t":0.33,"v":-3.3},{"t":0.35,"v":-5.5},{"t":0.37,"v":-5.6},{"t":0.39,"v":-5.0},{"t":0.42,"v":-5.4},{"t":0.44,"v":-2.7},{"t":0.47,"v":-5.5},{"t":0.49,"v":-6.4},{"t":0.51,"v":-4.0},{"t":0.53,"v":-1.0},{"t":0.56,"v":-1.0},{"t":0.58,"v":0.2},{"t":0.6,"v":0},{"t":0.62,"v":1.0},{"t":0.64,"v":1.5},{"t":0.66,"v":0},{"t":0.69,"v":-0.2},{"t":0.72,"v":0},{"t":0.74,"v":-2.0},{"t":0.77,"v":-2.0},{"t":0.79,"v":-3.7},{"t":0.82,"v":-2.3},{"t":0.84,"v":-2.8},{"t":0.86,"v":-3.6},{"t":0.89,"v":-4.5},{"t":0.91,"v":-3.0},{"t":0.94,"v":-1.5},{"t":0.97,"v":-1.0},{"t":0.99,"v":0.2},{"t":1.01,"v":0},{"t":1.03,"v":-1.0},{"t":1.06,"v":-1.7},{"t":1.08,"v":-1.9},{"t":1.12,"v":-2.2},{"t":1.14,"v":-1.5},{"t":1.17,"v":-1.3},{"t":1.2,"v":-1.7},{"t":1.24,"v":-1.3},{"t":1.28,"v":-0.9},{"t":1.31,"v":-0.9},{"t":1.36,"v":-0.8},{"t":1.42,"v":-0.5},{"t":1.47,"v":0},{"t":1.52,"v":0.3},{"t":1.57,"v":0.6},{"t":1.62,"v":0.7},{"t":1.67,"v":0.9},{"t":1.72,"v":1.2},{"t":1.77,"v":1.3},{"t":1.85,"v":1.3},{"t":1.93,"v":1.3},{"t":2.0,"v":1.2},{"t":2.04,"v":1.2},{"t":2.08,"v":1.5},{"t":2.11,"v":2.5},{"t":2.13,"v":3.8},{"t":2.15,"v":2.0},{"t":2.17,"v":2.8},{"t":2.19,"v":2.0},{"t":2.22,"v":3.0},{"t":2.24,"v":2.0},{"t":2.27,"v":3.3},{"t":2.29,"v":3.5},{"t":2.31,"v":4.5},{"t":2.33,"v":6.3},{"t":2.35,"v":6.9},{"t":2.37,"v":5.5},{"t":2.39,"v":6.0},{"t":2.41,"v":5.0},{"t":2.43,"v":3.4},{"t":2.45,"v":4.5},{"t":2.47,"v":3.8},{"t":2.49,"v":3.5},{"t":2.51,"v":2.0},{"t":2.53,"v":0},{"t":2.55,"v":-2.0},{"t":2.57,"v":-2.5},{"t":2.6,"v":-2.8},{"t":2.62,"v":-2.6},{"t":2.64,"v":-3.3},{"t":2.67,"v":-2.2},{"t":2.69,"v":-1.0},{"t":2.72,"v":2.5},{"t":2.74,"v":2.7},{"t":2.77,"v":1.5},{"t":2.79,"v":3.6},{"t":2.81,"v":4.3},{"t":2.83,"v":4.0},{"t":2.85,"v":2.0},{"t":2.87,"v":-0.5},{"t":2.89,"v":-1.0},{"t":2.91,"v":1.3},{"t":2.93,"v":1.0},{"t":2.95,"v":-2.0},{"t":2.97,"v":-3.5},{"t":3.0,"v":-4.3},{"t":3.02,"v":-2.5},{"t":3.05,"v":-2.5},{"t":3.07,"v":-1.0},{"t":3.09,"v":-2.5},{"t":3.11,"v":-1.5},{"t":3.13,"v":-0.5},{"t":3.15,"v":-1.0},{"t":3.18,"v":-0.5},{"t":3.2,"v":-0.5},{"t":3.23,"v":-2.0},{"t":3.24,"v":-3.0},{"t":3.27,"v":0},{"t":3.28,"v":1.5},{"t":3.3,"v":1.5},{"t":3.32,"v":-0.8},{"t":3.33,"v":1.5},{"t":3.36,"v":4.3},{"t":3.38,"v":3.5},{"t":3.41,"v":4.0},{"t":3.43,"v":3.5},{"t":3.46,"v":6.0},{"t":3.48,"v":6.0},{"t":3.51,"v":7.0},{"t":3.53,"v":7.6},{"t":3.56,"v":5.0},{"t":3.58,"v":2.5},{"t":3.6,"v":2.0},{"t":3.62,"v":1.0},{"t":3.64,"v":1.0},{"t":3.66,"v":1.0},{"t":3.69,"v":0.5},{"t":3.71,"v":-0.5},{"t":3.74,"v":-2.0},{"t":3.77,"v":-2.5},{"t":3.79,"v":-3.0},{"t":3.82,"v":-2.5},{"t":3.84,"v":-1.5},{"t":3.89,"v":-0.5},{"t":3.94,"v":0},{"t":4.0,"v":0.3},{"t":4.05,"v":0.4},{"t":4.1,"v":0.6},{"t":4.15,"v":0.8},{"t":4.23,"v":0.8},{"t":4.3,"v":1.0},{"t":4.35,"v":1.2},{"t":4.43,"v":1.1},{"t":4.51,"v":1.2},{"t":4.56,"v":1.5},{"t":4.61,"v":1.5},{"t":4.63,"v":2.0},{"t":4.66,"v":2.3},{"t":4.69,"v":1.0},{"t":4.71,"v":0},{"t":4.74,"v":-3.0},{"t":4.76,"v":-6.0},{"t":4.79,"v":-5.8},{"t":4.81,"v":-3.0},{"t":4.84,"v":-4.5},{"t":4.86,"v":-4.2},{"t":4.89,"v":-4.5},{"t":4.91,"v":-4.0},{"t":4.94,"v":-4.5},{"t":4.97,"v":-3.5},{"t":4.99,"v":-6.0},{"t":5.02,"v":-8.6},{"t":5.04,"v":-6.0},{"t":5.07,"v":-3.5},{"t":5.09,"v":-3.2},{"t":5.12,"v":-3.0},{"t":5.15,"v":-2.5},{"t":5.17,"v":-2.3},{"t":5.2,"v":-2.2},{"t":5.22,"v":-2.0},{"t":5.25,"v":-2.5},{"t":5.27,"v":-2.0},{"t":5.3,"v":-1.0},{"t":5.32,"v":-1.5},{"t":5.36,"v":0.4},{"t":5.39,"v":-2.0},{"t":5.41,"v":-3.5},{"t":5.44,"v":-2.5},{"t":5.46,"v":-2.3},{"t":5.49,"v":-2.0},{"t":5.51,"v":-1.0},{"t":5.54,"v":0},{"t":5.56,"v":0.1},{"t":5.59,"v":-1.0},{"t":5.61,"v":-1.5},{"t":5.63,"v":-0.3},{"t":5.66,"v":0},{"t":5.68,"v":-0.5},{"t":5.71,"v":-1.5},{"t":5.73,"v":-1.3},{"t":5.76,"v":-1.5},{"t":5.78,"v":-2.5},{"t":5.81,"v":-1.3},{"t":5.83,"v":-1.5},{"t":5.86,"v":-2.2},{"t":5.88,"v":-2.2},{"t":5.91,"v":-1.5},{"t":5.94,"v":-0.8},{"t":5.96,"v":0.5},{"t":5.99,"v":1.0},{"t":6.01,"v":1.5},{"t":6.03,"v":2.7},{"t":6.05,"v":1.5},{"t":6.08,"v":1.0},{"t":6.1,"v":1.7},{"t":6.12,"v":0.5},{"t":6.15,"v":1.0},{"t":6.17,"v":0.5},{"t":6.23,"v":0.4},{"t":6.25,"v":-0.2},{"t":6.29,"v":0},{"t":6.32,"v":-0.5},{"t":6.35,"v":-1.5},{"t":6.37,"v":-1.5},{"t":6.4,"v":-0.5},{"t":6.42,"v":-0.6},{"t":6.46,"v":-0.3},{"t":6.48,"v":-0.8},{"t":6.54,"v":-0.7},{"t":6.59,"v":-0.3},{"t":6.61,"v":0.3},{"t":6.66,"v":0.4},{"t":6.72,"v":0.5},{"t":6.79,"v":0.6},{"t":6.87,"v":0.6},{"t":6.92,"v":0.8},{"t":6.97,"v":0.6},{"t":7.03,"v":0.8},{"t":7.08,"v":0.5},{"t":7.13,"v":0.5},{"t":7.18,"v":0.7},{"t":7.21,"v":1.0},{"t":7.23,"v":0.5},{"t":7.26,"v":1.0},{"t":7.28,"v":0.3},{"t":7.31,"v":2.0},{"t":7.34,"v":3.0},{"t":7.36,"v":2.0},{"t":7.39,"v":3.5},{"t":7.41,"v":3.5},{"t":7.44,"v":4.0},{"t":7.46,"v":0.5},{"t":7.49,"v":1.5},{"t":7.52,"v":1.3},{"t":7.54,"v":4.5},{"t":7.57,"v":7.0},{"t":7.59,"v":8.7},{"t":7.62,"v":7.5},{"t":7.64,"v":6.2},{"t":7.67,"v":7.5},{"t":7.7,"v":8.0},{"t":7.72,"v":6.0},{"t":7.75,"v":8.8},{"t":7.77,"v":8.0},{"t":7.8,"v":6.0},{"t":7.81,"v":2.0},{"t":7.84,"v":1.2},{"t":7.86,"v":4.0},{"t":7.89,"v":2.5},{"t":7.91,"v":3.0},{"t":7.94,"v":4.5},{"t":7.96,"v":3.0},{"t":7.99,"v":2.0},{"t":8.02,"v":2.2},{"t":8.04,"v":1.0},{"t":8.07,"v":-0.5},{"t":8.08,"v":0},{"t":8.11,"v":-0.5},{"t":8.13,"v":0.8},{"t":8.16,"v":0},{"t":8.19,"v":2.6},{"t":8.21,"v":0},{"t":8.24,"v":-0.5},{"t":8.26,"v":-1.8},{"t":8.29,"v":-3.5},{"t":8.31,"v":-4.8},{"t":8.34,"v":-3.0},{"t":8.37,"v":-2.8},{"t":8.39,"v":-1.3},{"t":8.42,"v":-1.8},{"t":8.44,"v":-2.5},{"t":8.47,"v":-3.5},{"t":8.49,"v":-4.5},{"t":8.52,"v":-6.0},{"t":8.55,"v":-4.5},{"t":8.57,"v":-2.5},{"t":8.6,"v":-1.5},{"t":8.62,"v":-2.5},{"t":8.65,"v":-2.8},{"t":8.68,"v":-1.5},{"t":8.7,"v":-2.6},{"t":8.73,"v":-2.0},{"t":8.75,"v":-1.0},{"t":8.78,"v":2.0},{"t":8.8,"v":3.2},{"t":8.83,"v":2.5},{"t":8.86,"v":3.3},{"t":8.88,"v":2.5},{"t":8.91,"v":3.3},{"t":8.93,"v":2.5},{"t":8.96,"v":2.3},{"t":8.98,"v":-0.5},{"t":9.01,"v":-2.5},{"t":9.04,"v":-3.7},{"t":9.06,"v":-2.0},{"t":9.09,"v":-1.0},{"t":9.11,"v":-0.8},{"t":9.14,"v":-0.5},{"t":9.16,"v":-0.3},{"t":9.19,"v":0},{"t":9.22,"v":0.3},{"t":9.27,"v":0.8},{"t":9.32,"v":1.2},{"t":9.37,"v":1.6},{"t":9.42,"v":1.9},{"t":9.47,"v":2.3},{"t":9.53,"v":2.5},{"t":9.6,"v":2.6},{"t":9.68,"v":2.6},{"t":9.73,"v":2.7},{"t":9.76,"v":2.6},{"t":9.78,"v":3.2},{"t":9.81,"v":2.8},{"t":9.84,"v":5.5},{"t":9.86,"v":4.0},{"t":9.89,"v":1.0},{"t":9.91,"v":-1.0},{"t":9.94,"v":-3.0},{"t":9.96,"v":-4.5},{"t":10.02,"v":-6.0},{"t":10.04,"v":-7.5},{"t":10.07,"v":-8.2},{"t":10.09,"v":-6.0},{"t":10.12,"v":-6.5},{"t":10.14,"v":-6.5},{"t":10.17,"v":-6.0},{"t":10.2,"v":-3.0},{"t":10.22,"v":-5.0},{"t":10.25,"v":-6.0},{"t":10.27,"v":-5.5},{"t":10.3,"v":-7.8},{"t":10.32,"v":-4.0},{"t":10.35,"v":-4.3},{"t":10.38,"v":-3.0},{"t":10.4,"v":-3.5},{"t":10.43,"v":-2.8},{"t":10.45,"v":-3.0},{"t":10.48,"v":-1.5},{"t":10.5,"v":-1.0},{"t":10.53,"v":-2.5},{"t":10.56,"v":-0.5},{"t":10.58,"v":-1.0},{"t":10.61,"v":-0.8},{"t":10.63,"v":-2.5},{"t":10.66,"v":0},{"t":10.69,"v":0.5},{"t":10.71,"v":1.5},{"t":10.74,"v":2.5},{"t":10.76,"v":4.7},{"t":10.79,"v":4.4},{"t":10.81,"v":4.3},{"t":10.84,"v":4.0},{"t":10.87,"v":3.5},{"t":10.89,"v":3.0},{"t":10.92,"v":3.5},{"t":10.94,"v":2.0},{"t":10.97,"v":1.0},{"t":10.99,"v":0.8},{"t":11.02,"v":1.5},{"t":11.05,"v":1.0},{"t":11.07,"v":2.5},{"t":11.1,"v":1.5},{"t":11.12,"v":0.5},{"t":11.15,"v":0.5},{"t":11.18,"v":-0.5},{"t":11.2,"v":-1.0},{"t":11.23,"v":-1.3},{"t":11.25,"v":0.5},{"t":11.28,"v":-1.5},{"t":11.3,"v":-1.8},{"t":11.33,"v":-1.5},{"t":11.36,"v":-1.0},{"t":11.38,"v":-3.0},{"t":11.41,"v":-4.0},{"t":11.43,"v":-2.5},{"t":11.46,"v":-1.7},{"t":11.48,"v":-2.5},{"t":11.51,"v":-4.2},{"t":11.53,"v":-4.5},{"t":11.56,"v":-5.5},{"t":11.59,"v":-6.0},{"t":11.6,"v":-6.7},{"t":11.63,"v":-6.0},{"t":11.65,"v":-5.0},{"t":11.68,"v":-4.5},{"t":11.7,"v":-3.5},{"t":11.73,"v":-2.7},{"t":11.77,"v":-1.8},{"t":11.82,"v":-1.8},{"t":11.87,"v":-1.2},{"t":11.92,"v":-0.5},{"t":11.97,"v":0.2},{"t":12.03,"v":0.3},{"t":12.08,"v":0.4},{"t":12.13,"v":0.8},{"t":12.18,"v":0.9},{"t":12.26,"v":1.0},{"t":12.31,"v":1.3},{"t":12.36,"v":1.3},{"t":12.41,"v":1.0},{"t":12.45,"v":1.2},{"t":12.48,"v":1.0},{"t":12.51,"v":2.0},{"t":12.53,"v":2.5},{"t":12.57,"v":4.0},{"t":12.59,"v":5.0},{"t":12.62,"v":6.5},{"t":12.64,"v":7.5},{"t":12.67,"v":9.0},{"t":12.7,"v":9.5},{"t":12.72,"v":10.3},{"t":12.75,"v":9.5},{"t":12.77,"v":9.5},{"t":12.8,"v":8.0},{"t":12.82,"v":8.0},{"t":12.85,"v":7.0},{"t":12.87,"v":6.5},{"t":12.9,"v":7.5},{"t":12.92,"v":8.0},{"t":12.95,"v":6.5},{"t":12.98,"v":5.5},{"t":13.0,"v":3.5},{"t":13.03,"v":2.5},{"t":13.05,"v":1.5},{"t":13.08,"v":0.5},{"t":13.1,"v":-2.0},{"t":13.13,"v":0.5},{"t":13.15,"v":1.5},{"t":13.18,"v":1.5},{"t":13.2,"v":4.0},{"t":13.23,"v":5.0},{"t":13.25,"v":5.5},{"t":13.28,"v":6.0},{"t":13.3,"v":5.0},{"t":13.33,"v":3.5},{"t":13.35,"v":3.0},{"t":13.38,"v":2.8},{"t":13.41,"v":4.0},{"t":13.43,"v":4.5},{"t":13.45,"v":5.0},{"t":13.48,"v":5.5},{"t":13.5,"v":4.5},{"t":13.53,"v":4.0},{"t":13.56,"v":3.7},{"t":13.58,"v":5.0},{"t":13.61,"v":5.5},{"t":13.63,"v":6.0},{"t":13.66,"v":6.5},{"t":13.68,"v":7.5},{"t":13.71,"v":7.5},{"t":13.73,"v":7.0},{"t":13.76,"v":7.0},{"t":13.79,"v":8.0},{"t":13.81,"v":8.5},{"t":13.84,"v":9.0},{"t":13.86,"v":9.0},{"t":13.89,"v":9.3},{"t":13.92,"v":9.0},{"t":13.94,"v":9.5},{"t":13.97,"v":10.0},{"t":14.0,"v":10.5}
    ],
    "y_kal": [
      {"t":0,"v":-0.2},{"t":0.03,"v":0.2},{"t":0.09,"v":0.1},{"t":0.11,"v":0.3},{"t":0.14,"v":-0.1},{"t":0.16,"v":-0.5},{"t":0.19,"v":-0.3},{"t":0.24,"v":-0.6},{"t":0.27,"v":-0.6},{"t":0.29,"v":-0.8},{"t":0.32,"v":-1.1},{"t":0.34,"v":-1.2},{"t":0.37,"v":-1.4},{"t":0.39,"v":-1.2},{"t":0.44,"v":-1.2},{"t":0.47,"v":-1.6},{"t":0.5,"v":-1.7},{"t":0.52,"v":-1.2},{"t":0.57,"v":-1.1},{"t":0.62,"v":-0.8},{"t":0.65,"v":-1.0},{"t":0.67,"v":-1.3},{"t":0.7,"v":-1.5},{"t":0.73,"v":-1.8},{"t":0.75,"v":-2.2},{"t":0.78,"v":-2.0},{"t":0.8,"v":-2.2},{"t":0.83,"v":-1.9},{"t":0.85,"v":-2.5},{"t":0.88,"v":-2.8},{"t":0.9,"v":-2.2},{"t":0.93,"v":-1.6},{"t":0.96,"v":-1.5},{"t":0.98,"v":-1.4},{"t":1.01,"v":-1.5},{"t":1.03,"v":-2.0},{"t":1.06,"v":-2.2},{"t":1.08,"v":-2.4},{"t":1.11,"v":-2.5},{"t":1.16,"v":-2.3},{"t":1.19,"v":-2.4},{"t":1.24,"v":-2.1},{"t":1.29,"v":-1.9},{"t":1.34,"v":-1.6},{"t":1.39,"v":-1.5},{"t":1.44,"v":-1.1},{"t":1.49,"v":-0.6},{"t":1.54,"v":-0.3},{"t":1.59,"v":0},{"t":1.65,"v":0.2},{"t":1.7,"v":0.5},{"t":1.75,"v":0.8},{"t":1.8,"v":1.0},{"t":1.85,"v":1.2},{"t":1.9,"v":1.3},{"t":1.95,"v":1.4},{"t":2.0,"v":1.3},{"t":2.04,"v":1.5},{"t":2.06,"v":2.0},{"t":2.09,"v":2.0},{"t":2.12,"v":3.0},{"t":2.14,"v":3.8},{"t":2.16,"v":3.0},{"t":2.18,"v":3.6},{"t":2.21,"v":2.9},{"t":2.23,"v":3.6},{"t":2.26,"v":3.0},{"t":2.28,"v":3.7},{"t":2.31,"v":4.0},{"t":2.34,"v":6.0},{"t":2.36,"v":6.3},{"t":2.39,"v":5.5},{"t":2.41,"v":5.5},{"t":2.44,"v":4.5},{"t":2.46,"v":5.3},{"t":2.49,"v":4.5},{"t":2.51,"v":4.0},{"t":2.54,"v":1.0},{"t":2.57,"v":1.5},{"t":2.59,"v":0.5},{"t":2.62,"v":-0.2},{"t":2.64,"v":-0.2},{"t":2.67,"v":0},{"t":2.69,"v":0.5},{"t":2.72,"v":2.5},{"t":2.74,"v":2.3},{"t":2.77,"v":3.0},{"t":2.8,"v":3.5},{"t":2.82,"v":3.8},{"t":2.85,"v":2.5},{"t":2.87,"v":1.0},{"t":2.9,"v":2.2},{"t":2.92,"v":2.1},{"t":2.95,"v":1.5},{"t":2.97,"v":0.5},{"t":3.0,"v":-1.5},{"t":3.03,"v":-1.0},{"t":3.05,"v":0},{"t":3.08,"v":-0.7},{"t":3.1,"v":-1.0},{"t":3.13,"v":-0.3},{"t":3.15,"v":-0.7},{"t":3.18,"v":-0.2},{"t":3.2,"v":-0.5},{"t":3.23,"v":-1.5},{"t":3.25,"v":-1.0},{"t":3.28,"v":1.0},{"t":3.3,"v":0.5},{"t":3.33,"v":1.0},{"t":3.36,"v":2.5},{"t":3.38,"v":3.0},{"t":3.41,"v":3.5},{"t":3.43,"v":3.0},{"t":3.46,"v":4.5},{"t":3.48,"v":5.0},{"t":3.51,"v":5.5},{"t":3.53,"v":6.3},{"t":3.56,"v":5.0},{"t":3.59,"v":4.0},{"t":3.61,"v":3.0},{"t":3.64,"v":3.2},{"t":3.69,"v":2.5},{"t":3.71,"v":2.0},{"t":3.74,"v":2.0},{"t":3.77,"v":0.5},{"t":3.79,"v":0.1},{"t":3.82,"v":0},{"t":3.84,"v":-0.1},{"t":3.89,"v":0},{"t":3.94,"v":0.3},{"t":4.0,"v":0.3},{"t":4.05,"v":0.3},{"t":4.1,"v":0.3},{"t":4.15,"v":0.4},{"t":4.23,"v":0.3},{"t":4.3,"v":0.5},{"t":4.35,"v":0.5},{"t":4.43,"v":0.6},{"t":4.51,"v":0.6},{"t":4.56,"v":0.5},{"t":4.61,"v":0.8},{"t":4.63,"v":0.8},{"t":4.66,"v":1.5},{"t":4.69,"v":0.5},{"t":4.71,"v":-1.0},{"t":4.74,"v":-3.5},{"t":4.76,"v":-5.5},{"t":4.79,"v":-5.8},{"t":4.81,"v":-4.0},{"t":4.84,"v":-4.0},{"t":4.86,"v":-3.8},{"t":4.89,"v":-4.2},{"t":4.91,"v":-3.7},{"t":4.94,"v":-4.0},{"t":4.97,"v":-3.8},{"t":4.99,"v":-4.5},{"t":5.02,"v":-6.5},{"t":5.04,"v":-5.0},{"t":5.07,"v":-3.8},{"t":5.09,"v":-3.4},{"t":5.12,"v":-2.8},{"t":5.17,"v":-2.5},{"t":5.22,"v":-2.5},{"t":5.25,"v":-2.2},{"t":5.27,"v":-2.5},{"t":5.3,"v":-2.5},{"t":5.32,"v":-1.5},{"t":5.36,"v":-0.8},{"t":5.39,"v":-2.5},{"t":5.43,"v":-2.5},{"t":5.46,"v":-2.5},{"t":5.49,"v":-2.0},{"t":5.53,"v":-1.0},{"t":5.56,"v":-1.5},{"t":5.59,"v":-1.5},{"t":5.61,"v":-0.8},{"t":5.64,"v":-1.0},{"t":5.68,"v":-0.8},{"t":5.71,"v":-1.5},{"t":5.74,"v":-1.3},{"t":5.78,"v":-2.0},{"t":5.81,"v":-1.5},{"t":5.83,"v":-1.8},{"t":5.86,"v":-1.5},{"t":5.88,"v":-2.3},{"t":5.91,"v":-1.8},{"t":5.94,"v":-1.0},{"t":5.96,"v":-0.5},{"t":5.99,"v":0.2},{"t":6.01,"v":0.8},{"t":6.04,"v":0.5},{"t":6.07,"v":0},{"t":6.09,"v":0.3},{"t":6.12,"v":-0.2},{"t":6.15,"v":-0.3},{"t":6.2,"v":-0.1},{"t":6.25,"v":-0.3},{"t":6.3,"v":-0.5},{"t":6.35,"v":-1.0},{"t":6.38,"v":-0.8},{"t":6.43,"v":-0.5},{"t":6.48,"v":-0.6},{"t":6.56,"v":-0.4},{"t":6.61,"v":0.3},{"t":6.66,"v":0.7},{"t":6.72,"v":0.8},{"t":6.79,"v":0.9},{"t":6.87,"v":1.0},{"t":6.95,"v":1.1},{"t":7.03,"v":1.2},{"t":7.1,"v":1.2},{"t":7.15,"v":1.3},{"t":7.21,"v":1.2},{"t":7.26,"v":1.5},{"t":7.28,"v":1.5},{"t":7.31,"v":2.5},{"t":7.34,"v":3.5},{"t":7.36,"v":3.2},{"t":7.39,"v":4.3},{"t":7.41,"v":4.7},{"t":7.44,"v":4.5},{"t":7.46,"v":3.0},{"t":7.49,"v":3.2},{"t":7.52,"v":3.5},{"t":7.54,"v":4.5},{"t":7.57,"v":6.5},{"t":7.59,"v":7.5},{"t":7.62,"v":7.3},{"t":7.64,"v":6.5},{"t":7.67,"v":7.0},{"t":7.7,"v":7.5},{"t":7.72,"v":6.5},{"t":7.75,"v":7.8},{"t":7.77,"v":7.0},{"t":7.8,"v":4.0},{"t":7.82,"v":2.5},{"t":7.85,"v":3.0},{"t":7.88,"v":3.5},{"t":7.9,"v":3.5},{"t":7.93,"v":4.0},{"t":7.95,"v":3.5},{"t":7.98,"v":3.5},{"t":8.01,"v":2.5},{"t":8.03,"v":2.0},{"t":8.06,"v":2.0},{"t":8.08,"v":1.8},{"t":8.11,"v":1.5},{"t":8.13,"v":1.5},{"t":8.16,"v":1.0},{"t":8.19,"v":1.5},{"t":8.21,"v":1.0},{"t":8.24,"v":0},{"t":8.26,"v":-0.8},{"t":8.29,"v":-1.5},{"t":8.31,"v":-2.0},{"t":8.34,"v":-1.0},{"t":8.37,"v":-0.5},{"t":8.39,"v":-0.5},{"t":8.42,"v":-1.0},{"t":8.44,"v":-1.5},{"t":8.47,"v":-2.0},{"t":8.49,"v":-2.5},{"t":8.52,"v":-3.5},{"t":8.55,"v":-3.0},{"t":8.57,"v":-1.0},{"t":8.6,"v":-1.0},{"t":8.62,"v":-1.5},{"t":8.65,"v":-1.5},{"t":8.68,"v":-1.0},{"t":8.7,"v":-1.5},{"t":8.73,"v":-1.0},{"t":8.75,"v":-0.5},{"t":8.78,"v":1.0},{"t":8.8,"v":2.0},{"t":8.83,"v":2.0},{"t":8.88,"v":2.2},{"t":8.91,"v":2.5},{"t":8.93,"v":2.0},{"t":8.96,"v":1.5},{"t":8.98,"v":1.0},{"t":9.01,"v":-1.0},{"t":9.04,"v":-1.5},{"t":9.06,"v":-1.0},{"t":9.09,"v":-1.0},{"t":9.14,"v":-1.1},{"t":9.19,"v":-1.2},{"t":9.22,"v":-1.0},{"t":9.27,"v":-0.5},{"t":9.32,"v":-0.2},{"t":9.4,"v":0.2},{"t":9.47,"v":0.5},{"t":9.53,"v":0.7},{"t":9.6,"v":0.9},{"t":9.68,"v":1.0},{"t":9.73,"v":1.2},{"t":9.76,"v":1.5},{"t":9.78,"v":2.0},{"t":9.81,"v":2.5},{"t":9.84,"v":3.0},{"t":9.86,"v":3.0},{"t":9.89,"v":2.0},{"t":9.91,"v":-0.5},{"t":9.94,"v":-2.5},{"t":9.96,"v":-4.0},{"t":10.02,"v":-6.0},{"t":10.04,"v":-7.0},{"t":10.07,"v":-8.0},{"t":10.09,"v":-7.0},{"t":10.12,"v":-5.5},{"t":10.14,"v":-5.0},{"t":10.17,"v":-5.5},{"t":10.2,"v":-4.5},{"t":10.22,"v":-5.0},{"t":10.25,"v":-4.5},{"t":10.27,"v":-4.5},{"t":10.3,"v":-5.3},{"t":10.32,"v":-4.0},{"t":10.35,"v":-3.0},{"t":10.38,"v":-2.8},{"t":10.4,"v":-2.5},{"t":10.45,"v":-2.5},{"t":10.48,"v":-1.5},{"t":10.5,"v":-1.0},{"t":10.53,"v":-2.0},{"t":10.56,"v":-0.5},{"t":10.58,"v":-1.0},{"t":10.61,"v":-0.5},{"t":10.63,"v":-0.5},{"t":10.66,"v":0},{"t":10.69,"v":1.0},{"t":10.71,"v":1.8},{"t":10.74,"v":2.0},{"t":10.76,"v":3.3},{"t":10.79,"v":3.5},{"t":10.81,"v":3.7},{"t":10.87,"v":3.7},{"t":10.89,"v":3.0},{"t":10.92,"v":2.0},{"t":10.94,"v":2.5},{"t":10.97,"v":1.8},{"t":10.99,"v":1.5},{"t":11.02,"v":2.0},{"t":11.05,"v":2.8},{"t":11.07,"v":2.8},{"t":11.1,"v":2.0},{"t":11.12,"v":1.8},{"t":11.15,"v":1.5},{"t":11.18,"v":1.0},{"t":11.2,"v":0.8},{"t":11.23,"v":0},{"t":11.25,"v":1.5},{"t":11.28,"v":0.5},{"t":11.3,"v":-0.5},{"t":11.33,"v":-1.0},{"t":11.36,"v":-1.2},{"t":11.38,"v":-1.5},{"t":11.41,"v":-2.0},{"t":11.43,"v":-1.0},{"t":11.46,"v":-0.8},{"t":11.48,"v":-1.5},{"t":11.51,"v":-2.5},{"t":11.53,"v":-3.0},{"t":11.56,"v":-4.0},{"t":11.59,"v":-4.5},{"t":11.61,"v":-5.0},{"t":11.64,"v":-4.8},{"t":11.66,"v":-4.5},{"t":11.69,"v":-4.0},{"t":11.71,"v":-3.0},{"t":11.77,"v":-2.5},{"t":11.82,"v":-2.0},{"t":11.87,"v":-1.5},{"t":11.92,"v":-1.0},{"t":11.97,"v":-0.7},{"t":12.03,"v":-0.5},{"t":12.08,"v":-0.3},{"t":12.13,"v":0},{"t":12.18,"v":0.2},{"t":12.26,"v":0.4},{"t":12.34,"v":0.6},{"t":12.41,"v":0.7},{"t":12.48,"v":1.0},{"t":12.51,"v":2.0},{"t":12.54,"v":3.0},{"t":12.57,"v":4.0},{"t":12.59,"v":5.0},{"t":12.62,"v":6.0},{"t":12.64,"v":7.0},{"t":12.67,"v":8.0},{"t":12.7,"v":9.0},{"t":12.72,"v":10.0},{"t":12.77,"v":10.0},{"t":12.8,"v":9.0},{"t":12.82,"v":9.0},{"t":12.85,"v":8.5},{"t":12.87,"v":8.0},{"t":12.9,"v":8.0},{"t":12.92,"v":9.0},{"t":12.95,"v":8.0},{"t":12.98,"v":6.5},{"t":13.0,"v":5.5},{"t":13.03,"v":4.5},{"t":13.05,"v":4.0},{"t":13.08,"v":2.5},{"t":13.1,"v":1.0},{"t":13.13,"v":1.5},{"t":13.15,"v":2.0},{"t":13.18,"v":2.0},{"t":13.2,"v":3.0},{"t":13.23,"v":4.5},{"t":13.25,"v":5.0},{"t":13.28,"v":5.3},{"t":13.3,"v":4.5},{"t":13.33,"v":4.0},{"t":13.35,"v":4.0},{"t":13.38,"v":4.5},{"t":13.41,"v":5.0},{"t":13.45,"v":5.0},{"t":13.48,"v":5.5},{"t":13.5,"v":5.0},{"t":13.53,"v":4.5},{"t":13.56,"v":4.5},{"t":13.58,"v":5.0},{"t":13.61,"v":5.0},{"t":13.63,"v":5.3},{"t":13.66,"v":5.5},{"t":13.68,"v":6.0},{"t":13.71,"v":6.5},{"t":13.73,"v":6.5},{"t":13.76,"v":6.0},{"t":13.79,"v":6.3},{"t":13.81,"v":7.0},{"t":13.84,"v":7.5},{"t":13.86,"v":7.8},{"t":13.89,"v":8.0},{"t":13.92,"v":8.0},{"t":13.94,"v":8.5},{"t":13.97,"v":9.5},{"t":14.0,"v":10.3}
    ],
    "y_nr": [
      {"t":0,"v":2.1},{"t":0.03,"v":2.0},{"t":0.06,"v":1.8},{"t":0.11,"v":1.6},{"t":0.16,"v":1.6},{"t":0.21,"v":1.4},{"t":0.27,"v":1.3},{"t":0.32,"v":1.1},{"t":0.37,"v":1.2},{"t":0.42,"v":1.3},{"t":0.47,"v":1.2},{"t":0.52,"v":1.2},{"t":0.57,"v":1.1},{"t":0.62,"v":1.1},{"t":0.67,"v":1.0},{"t":0.73,"v":1.0},{"t":0.78,"v":1.0},{"t":0.83,"v":0.9},{"t":0.88,"v":0.6},{"t":0.93,"v":0.5},{"t":0.98,"v":0.3},{"t":1.03,"v":0.3},{"t":1.06,"v":0.0},{"t":1.08,"v":0.4},{"t":1.14,"v":0.5},{"t":1.19,"v":0.3},{"t":1.24,"v":0.4},{"t":1.29,"v":0.5},{"t":1.34,"v":0.3},{"t":1.39,"v":0.3},{"t":1.44,"v":0.3},{"t":1.49,"v":0.4},{"t":1.54,"v":0.3},{"t":1.59,"v":0.4},{"t":1.65,"v":0.5},{"t":1.7,"v":0.5},{"t":1.75,"v":0.5},{"t":1.8,"v":0.4},{"t":1.85,"v":0.4},{"t":1.9,"v":0.4},{"t":1.95,"v":0.3},{"t":2.0,"v":0.3},{"t":2.05,"v":0.3},{"t":2.1,"v":0.4},{"t":2.16,"v":0.2},{"t":2.21,"v":0.3},{"t":2.26,"v":0.1},{"t":2.31,"v":0.3},{"t":2.36,"v":0.3},{"t":2.39,"v":0.0},{"t":2.41,"v":-0.3},{"t":2.44,"v":-0.4},{"t":2.46,"v":-0.3},{"t":2.49,"v":-1.5},{"t":2.51,"v":-2.0},{"t":2.54,"v":-2.3},{"t":2.55,"v":-4.0},{"t":2.57,"v":-2.0},{"t":2.6,"v":-1.0},{"t":2.62,"v":-2.5},{"t":2.64,"v":-1.5},{"t":2.67,"v":-2.0},{"t":2.69,"v":-1.0},{"t":2.72,"v":-1.5},{"t":2.74,"v":-0.5},{"t":2.77,"v":-0.2},{"t":2.8,"v":-0.5},{"t":2.82,"v":0.5},{"t":2.85,"v":2.5},{"t":2.87,"v":2.5},{"t":2.9,"v":4.0},{"t":2.92,"v":4.8},{"t":2.95,"v":5.0},{"t":2.97,"v":5.8},{"t":3.0,"v":6.0},{"t":3.03,"v":6.5},{"t":3.05,"v":7.0},{"t":3.08,"v":7.2},{"t":3.1,"v":7.0},{"t":3.13,"v":6.6},{"t":3.15,"v":7.0},{"t":3.18,"v":6.8},{"t":3.2,"v":6.5},{"t":3.23,"v":6.3},{"t":3.25,"v":5.6},{"t":3.28,"v":6.0},{"t":3.3,"v":6.1},{"t":3.33,"v":5.8},{"t":3.36,"v":5.5},{"t":3.38,"v":5.0},{"t":3.41,"v":4.8},{"t":3.43,"v":4.5},{"t":3.46,"v":4.5},{"t":3.48,"v":4.3},{"t":3.51,"v":4.5},{"t":3.53,"v":4.5},{"t":3.56,"v":4.0},{"t":3.59,"v":3.0},{"t":3.61,"v":2.5},{"t":3.64,"v":2.0},{"t":3.66,"v":1.5},{"t":3.69,"v":0.5},{"t":3.71,"v":-1.0},{"t":3.74,"v":-0.5},{"t":3.77,"v":-1.5},{"t":3.79,"v":-1.8},{"t":3.82,"v":-2.5},{"t":3.84,"v":-3.2},{"t":3.87,"v":-3.2},{"t":3.89,"v":-2.2},{"t":3.92,"v":-1.7},{"t":3.94,"v":-1.8},{"t":3.97,"v":-3.2},{"t":4.0,"v":-1.8},{"t":4.02,"v":-3.2},{"t":4.05,"v":-3.0},{"t":4.07,"v":-4.1},{"t":4.09,"v":-4.1},{"t":4.11,"v":-2.5},{"t":4.13,"v":-1.7},{"t":4.16,"v":-2.5},{"t":4.18,"v":-1.8},{"t":4.21,"v":-1.8},{"t":4.24,"v":-1.3},{"t":4.26,"v":-0.7},{"t":4.29,"v":-1.3},{"t":4.31,"v":-1.2},{"t":4.34,"v":-0.2},{"t":4.36,"v":-0.2},{"t":4.39,"v":-0.2},{"t":4.41,"v":-1.3},{"t":4.44,"v":-0.2},{"t":4.47,"v":-0.3},{"t":4.49,"v":-1.4},{"t":4.52,"v":-1.0},{"t":4.54,"v":-0.7},{"t":4.57,"v":-0.6},{"t":4.59,"v":0.5},{"t":4.62,"v":1.5},{"t":4.64,"v":3.0},{"t":4.67,"v":4.0},{"t":4.69,"v":5.0},{"t":4.72,"v":4.3},{"t":4.75,"v":3.8},{"t":4.77,"v":3.8},{"t":4.81,"v":3.6},{"t":4.86,"v":3.5},{"t":4.91,"v":3.3},{"t":4.97,"v":3.0},{"t":4.99,"v":2.9},{"t":5.02,"v":2.9},{"t":5.07,"v":3.0},{"t":5.12,"v":3.0},{"t":5.17,"v":2.9},{"t":5.22,"v":2.3},{"t":5.27,"v":1.8},{"t":5.32,"v":1.6},{"t":5.37,"v":1.5},{"t":5.43,"v":1.5},{"t":5.48,"v":1.6},{"t":5.53,"v":1.7},{"t":5.58,"v":1.6},{"t":5.63,"v":1.4},{"t":5.68,"v":1.4},{"t":5.73,"v":1.2},{"t":5.78,"v":1.2},{"t":5.83,"v":1.3},{"t":5.88,"v":1.0},{"t":5.94,"v":1.0},{"t":5.99,"v":1.0},{"t":6.04,"v":0.9},{"t":6.09,"v":0.8},{"t":6.14,"v":0.7},{"t":6.2,"v":0.4},{"t":6.28,"v":0.5},{"t":6.33,"v":0.4},{"t":6.38,"v":0.5},{"t":6.44,"v":0.3},{"t":6.49,"v":0.1},{"t":6.54,"v":-0.1},{"t":6.59,"v":0.2},{"t":6.64,"v":0.3},{"t":6.72,"v":0.3},{"t":6.82,"v":0.3},{"t":6.92,"v":0.3},{"t":7.03,"v":0.3},{"t":7.1,"v":0.3},{"t":7.15,"v":0.4},{"t":7.21,"v":0.3},{"t":7.26,"v":0.1},{"t":7.31,"v":-0.2},{"t":7.36,"v":-0.2},{"t":7.41,"v":-0.2},{"t":7.46,"v":0},{"t":7.52,"v":-0.2},{"t":7.57,"v":0},{"t":7.62,"v":-0.5},{"t":7.64,"v":-1.0},{"t":7.67,"v":-2.0},{"t":7.7,"v":-2.1},{"t":7.72,"v":-1.6},{"t":7.75,"v":-2.4},{"t":7.77,"v":-0.6},{"t":7.8,"v":-2.1},{"t":7.82,"v":-0.5},{"t":7.85,"v":-0.5},{"t":7.88,"v":0.3},{"t":7.9,"v":-1.0},{"t":7.93,"v":-2.4},{"t":7.95,"v":0},{"t":7.98,"v":2.0},{"t":8.01,"v":2.3},{"t":8.03,"v":2.5},{"t":8.06,"v":3.3},{"t":8.08,"v":4.5},{"t":8.11,"v":5.0},{"t":8.13,"v":5.2},{"t":8.16,"v":5.5},{"t":8.19,"v":6.3},{"t":8.21,"v":6.3},{"t":8.24,"v":7.3},{"t":8.26,"v":6.3},{"t":8.29,"v":6.3},{"t":8.31,"v":7.3},{"t":8.34,"v":7.0},{"t":8.37,"v":7.5},{"t":8.39,"v":7.0},{"t":8.42,"v":6.5},{"t":8.44,"v":6.0},{"t":8.47,"v":6.0},{"t":8.49,"v":6.3},{"t":8.52,"v":6.0},{"t":8.55,"v":5.3},{"t":8.57,"v":5.0},{"t":8.6,"v":4.8},{"t":8.62,"v":4.3},{"t":8.65,"v":4.3},{"t":8.68,"v":4.6},{"t":8.7,"v":4.0},{"t":8.73,"v":4.7},{"t":8.75,"v":4.6},{"t":8.78,"v":3.6},{"t":8.8,"v":3.0},{"t":8.83,"v":2.0},{"t":8.86,"v":1.0},{"t":8.88,"v":-0.5},{"t":8.91,"v":-0.8},{"t":8.93,"v":0.3},{"t":8.96,"v":0.0},{"t":8.98,"v":-2.0},{"t":9.01,"v":-3.0},{"t":9.04,"v":-3.5},{"t":9.06,"v":-2.0},{"t":9.09,"v":-2.0},{"t":9.11,"v":-2.5},{"t":9.14,"v":-2.0},{"t":9.16,"v":-1.8},{"t":9.19,"v":-2.8},{"t":9.22,"v":-3.3},{"t":9.24,"v":0},{"t":9.27,"v":-2.5},{"t":9.29,"v":-2.0},{"t":9.32,"v":-1.8},{"t":9.35,"v":-1.8},{"t":9.36,"v":-3.8},{"t":9.38,"v":-0.5},{"t":9.42,"v":-0.6},{"t":9.47,"v":-0.5},{"t":9.5,"v":2.2},{"t":9.53,"v":-0.5},{"t":9.55,"v":-0.6},{"t":9.58,"v":0},{"t":9.6,"v":-0.6},{"t":9.65,"v":-0.6},{"t":9.71,"v":-0.6},{"t":9.75,"v":-0.8},{"t":9.77,"v":0},{"t":9.8,"v":1.0},{"t":9.82,"v":2.5},{"t":9.85,"v":4.0},{"t":9.87,"v":5.0},{"t":9.9,"v":6.3},{"t":9.92,"v":5.5},{"t":9.95,"v":4.5},{"t":9.97,"v":4.5},{"t":10.03,"v":4.5},{"t":10.07,"v":4.0},{"t":10.12,"v":3.8},{"t":10.17,"v":3.5},{"t":10.22,"v":3.0},{"t":10.27,"v":3.0},{"t":10.32,"v":2.8},{"t":10.38,"v":2.7},{"t":10.43,"v":2.5},{"t":10.45,"v":2.3},{"t":10.48,"v":2.0},{"t":10.53,"v":1.7},{"t":10.58,"v":1.7},{"t":10.63,"v":1.8},{"t":10.66,"v":1.8},{"t":10.69,"v":1.7},{"t":10.74,"v":1.6},{"t":10.79,"v":1.6},{"t":10.84,"v":1.4},{"t":10.89,"v":1.4},{"t":10.94,"v":1.3},{"t":10.99,"v":1.5},{"t":11.05,"v":1.3},{"t":11.1,"v":1.2},{"t":11.15,"v":1.0},{"t":11.2,"v":0.6},{"t":11.25,"v":0.5},{"t":11.3,"v":0.7},{"t":11.36,"v":0.8},{"t":11.41,"v":0.7},{"t":11.46,"v":0.5},{"t":11.51,"v":0.8},{"t":11.56,"v":0.7},{"t":11.61,"v":0.4},{"t":11.66,"v":0.3},{"t":11.71,"v":0.2},{"t":11.77,"v":0.3},{"t":11.82,"v":0.4},{"t":11.87,"v":0.5},{"t":11.92,"v":0.6},{"t":11.97,"v":0.7},{"t":12.03,"v":0.6},{"t":12.08,"v":0.6},{"t":12.15,"v":0.6},{"t":12.23,"v":0.7},{"t":12.28,"v":0.6},{"t":12.36,"v":0.6},{"t":12.41,"v":0.6},{"t":12.45,"v":0.5},{"t":12.49,"v":0.0},{"t":12.54,"v":-0.5},{"t":12.59,"v":-0.6},{"t":12.65,"v":-0.2},{"t":12.67,"v":-0.3},{"t":12.7,"v":-1.0},{"t":12.72,"v":-1.0},{"t":12.75,"v":-0.5},{"t":12.77,"v":-0.3},{"t":12.8,"v":-0.5},{"t":12.82,"v":-1.0},{"t":12.85,"v":-2.5},{"t":12.87,"v":-2.8},{"t":12.9,"v":-2.0},{"t":12.92,"v":-3.3},{"t":12.95,"v":-2.5},{"t":12.98,"v":-2.3},{"t":13.0,"v":-0.8},{"t":13.03,"v":-1.0},{"t":13.05,"v":-0.5},{"t":13.08,"v":-1.0},{"t":13.1,"v":0.5},{"t":13.13,"v":1.0},{"t":13.15,"v":2.5},{"t":13.18,"v":2.5},{"t":13.2,"v":3.5},{"t":13.23,"v":4.0},{"t":13.25,"v":4.5},{"t":13.28,"v":5.0},{"t":13.3,"v":5.0},{"t":13.33,"v":6.0},{"t":13.35,"v":6.3},{"t":13.38,"v":6.5},{"t":13.41,"v":7.3},{"t":13.43,"v":7.0},{"t":13.45,"v":7.5},{"t":13.48,"v":7.0},{"t":13.5,"v":7.5},{"t":13.53,"v":7.8},{"t":13.56,"v":7.5},{"t":13.58,"v":7.3},{"t":13.61,"v":6.5},{"t":13.63,"v":6.5},{"t":13.66,"v":6.5},{"t":13.68,"v":7.0},{"t":13.71,"v":6.5},{"t":13.73,"v":5.5},{"t":13.76,"v":5.5},{"t":13.79,"v":5.0},{"t":13.81,"v":4.7},{"t":13.84,"v":4.8},{"t":13.86,"v":4.8},{"t":13.89,"v":4.7},{"t":13.92,"v":4.8},{"t":13.94,"v":5.0},{"t":14.0,"v":5.3}
    ],
    "g_com": [
      {"t":0,"v":0.6},{"t":0.03,"v":0.9},{"t":0.06,"v":1.1},{"t":0.08,"v":0.9},{"t":0.11,"v":1.1},{"t":0.13,"v":-0.6},{"t":0.15,"v":-0.8},{"t":0.18,"v":0.3},{"t":0.21,"v":-1.0},{"t":0.24,"v":-0.5},{"t":0.26,"v":-1.1},{"t":0.29,"v":-1.4},{"t":0.31,"v":-1.0},{"t":0.34,"v":-1.2},{"t":0.36,"v":-1.0},{"t":0.39,"v":-1.4},{"t":0.41,"v":-1.0},{"t":0.44,"v":-1.4},{"t":0.47,"v":-1.2},{"t":0.49,"v":-1.5},{"t":0.52,"v":-1.7},{"t":0.54,"v":-1.3},{"t":0.57,"v":-1.0},{"t":0.59,"v":-0.8},{"t":0.62,"v":-1.2},{"t":0.64,"v":-0.9},{"t":0.67,"v":-1.2},{"t":0.7,"v":-1.0},{"t":0.72,"v":-1.7},{"t":0.75,"v":-0.9},{"t":0.77,"v":-0.7},{"t":0.8,"v":-0.3},{"t":0.82,"v":-0.6},{"t":0.85,"v":-0.5},{"t":0.87,"v":-0.6},{"t":0.9,"v":-0.3},{"t":0.93,"v":0},{"t":0.95,"v":0.1},{"t":0.98,"v":0.1},{"t":1.0,"v":-0.4},{"t":1.03,"v":-0.3},{"t":1.05,"v":-0.6},{"t":1.08,"v":-0.8},{"t":1.1,"v":-1.0},{"t":1.13,"v":-1.1},{"t":1.16,"v":-1.0},{"t":1.21,"v":-0.9},{"t":1.26,"v":-1.0},{"t":1.31,"v":-1.1},{"t":1.36,"v":-0.9},{"t":1.41,"v":-0.6},{"t":1.46,"v":-0.6},{"t":1.57,"v":-0.6},{"t":1.72,"v":-0.6},{"t":1.77,"v":-0.5},{"t":1.87,"v":-0.5},{"t":1.92,"v":-0.4},{"t":1.97,"v":-0.4},{"t":2.02,"v":-0.5},{"t":2.05,"v":-0.3},{"t":2.08,"v":0.5},{"t":2.1,"v":0},{"t":2.13,"v":0.7},{"t":2.15,"v":0.3},{"t":2.18,"v":0.4},{"t":2.2,"v":-0.3},{"t":2.23,"v":1.4},{"t":2.26,"v":0.5},{"t":2.28,"v":-0.4},{"t":2.31,"v":-1.0},{"t":2.33,"v":0},{"t":2.36,"v":1.2},{"t":2.38,"v":1.0},{"t":2.41,"v":-0.5},{"t":2.43,"v":-0.6},{"t":2.46,"v":-1.5},{"t":2.49,"v":-1.0},{"t":2.51,"v":-0.6},{"t":2.54,"v":-0.3},{"t":2.56,"v":0.6},{"t":2.59,"v":0.5},{"t":2.61,"v":0.4},{"t":2.64,"v":0.5},{"t":2.66,"v":1.0},{"t":2.69,"v":1.5},{"t":2.72,"v":2.0},{"t":2.74,"v":2.4},{"t":2.77,"v":2.6},{"t":2.79,"v":2.2},{"t":2.82,"v":2.3},{"t":2.84,"v":2.0},{"t":2.9,"v":2.0},{"t":2.92,"v":1.8},{"t":2.95,"v":1.7},{"t":2.97,"v":1.2},{"t":3.0,"v":0.5},{"t":3.02,"v":0},{"t":3.05,"v":-0.9},{"t":3.07,"v":-1.0},{"t":3.1,"v":-0.5},{"t":3.13,"v":-0.7},{"t":3.15,"v":-2.2},{"t":3.18,"v":-1.3},{"t":3.2,"v":-0.8},{"t":3.23,"v":-1.7},{"t":3.25,"v":-1.5},{"t":3.28,"v":-1.0},{"t":3.3,"v":-0.8},{"t":3.33,"v":-0.5},{"t":3.36,"v":0.2},{"t":3.38,"v":0},{"t":3.41,"v":-0.3},{"t":3.43,"v":-0.5},{"t":3.46,"v":-1.2},{"t":3.48,"v":-0.8},{"t":3.51,"v":-0.5},{"t":3.53,"v":0.2},{"t":3.56,"v":0.4},{"t":3.59,"v":0.8},{"t":3.61,"v":1.2},{"t":3.64,"v":1.0},{"t":3.66,"v":0.8},{"t":3.69,"v":0.7},{"t":3.71,"v":0.3},{"t":3.74,"v":0.5},{"t":3.76,"v":0.5},{"t":3.79,"v":0.2},{"t":3.82,"v":0},{"t":3.84,"v":-0.1},{"t":3.89,"v":0},{"t":4.0,"v":0},{"t":4.05,"v":-0.1},{"t":4.1,"v":-0.2},{"t":4.15,"v":-0.3},{"t":4.53,"v":-0.3},{"t":4.56,"v":-0.2},{"t":4.58,"v":0.2},{"t":4.61,"v":0.5},{"t":4.63,"v":0},{"t":4.65,"v":2.9},{"t":4.67,"v":1.0},{"t":4.7,"v":0.3},{"t":4.72,"v":0.8},{"t":4.75,"v":0.3},{"t":4.77,"v":0.6},{"t":4.8,"v":0.4},{"t":4.82,"v":0},{"t":4.85,"v":-0.8},{"t":4.87,"v":-0.5},{"t":4.9,"v":-1.1},{"t":4.93,"v":-1.0},{"t":4.95,"v":-0.5},{"t":4.98,"v":-0.2},{"t":5.0,"v":-0.8},{"t":5.03,"v":-0.1},{"t":5.05,"v":-1.1},{"t":5.08,"v":-1.0},{"t":5.1,"v":-1.1},{"t":5.13,"v":-0.8},{"t":5.16,"v":-0.5},{"t":5.18,"v":0},{"t":5.21,"v":0.3},{"t":5.23,"v":-0.5},{"t":5.26,"v":-0.5},{"t":5.28,"v":-0.2},{"t":5.31,"v":0.5},{"t":5.33,"v":0.5},{"t":5.36,"v":1.4},{"t":5.39,"v":1.0},{"t":5.41,"v":1.0},{"t":5.44,"v":0.7},{"t":5.46,"v":0.3},{"t":5.49,"v":0},{"t":5.51,"v":-0.5},{"t":5.54,"v":0.3},{"t":5.56,"v":0.3},{"t":5.59,"v":0.4},{"t":5.62,"v":0.7},{"t":5.64,"v":0.5},{"t":5.67,"v":0.4},{"t":5.69,"v":0.2},{"t":5.72,"v":0.5},{"t":5.74,"v":0},{"t":5.77,"v":0.3},{"t":5.79,"v":-0.5},{"t":5.82,"v":-1.0},{"t":5.85,"v":-1.5},{"t":5.87,"v":-1.7},{"t":5.9,"v":-1.8},{"t":5.92,"v":-0.8},{"t":5.95,"v":-0.8},{"t":5.97,"v":-1.0},{"t":6.0,"v":-1.0},{"t":6.03,"v":-0.7},{"t":6.05,"v":0},{"t":6.08,"v":0.5},{"t":6.1,"v":-0.5},{"t":6.13,"v":-0.8},{"t":6.15,"v":-1.2},{"t":6.18,"v":-1.1},{"t":6.21,"v":-1.3},{"t":6.24,"v":-0.7},{"t":6.26,"v":-1.1},{"t":6.29,"v":-0.7},{"t":6.31,"v":-0.8},{"t":6.42,"v":-0.7},{"t":6.47,"v":-0.5},{"t":6.52,"v":-0.3},{"t":6.57,"v":-0.2},{"t":6.62,"v":-0.2},{"t":6.67,"v":-0.3},{"t":6.72,"v":-0.3},{"t":6.8,"v":-0.2},{"t":7.16,"v":-0.2},{"t":7.19,"v":-0.3},{"t":7.21,"v":-0.5},{"t":7.24,"v":-0.6},{"t":7.26,"v":-0.7},{"t":7.29,"v":-0.3},{"t":7.32,"v":-0.1},{"t":7.34,"v":0.5},{"t":7.37,"v":-1.0},{"t":7.39,"v":-2.3},{"t":7.42,"v":-1.5},{"t":7.44,"v":0},{"t":7.47,"v":-1.0},{"t":7.49,"v":-2.2},{"t":7.51,"v":-1.5},{"t":7.54,"v":1.0},{"t":7.56,"v":2.0},{"t":7.59,"v":1.8},{"t":7.61,"v":2.9},{"t":7.64,"v":2.2},{"t":7.67,"v":1.8},{"t":7.69,"v":1.7},{"t":7.72,"v":1.6},{"t":7.74,"v":1.3},{"t":7.77,"v":0.9},{"t":7.79,"v":0.5},{"t":7.82,"v":-0.3},{"t":7.85,"v":-0.5},{"t":7.87,"v":-0.7},{"t":7.9,"v":-1.0},{"t":7.92,"v":-1.5},{"t":7.95,"v":-1.0},{"t":7.97,"v":-0.8},{"t":8.0,"v":-1.8},{"t":8.03,"v":-3.5},{"t":8.05,"v":-2.5},{"t":8.08,"v":-1.5},{"t":8.1,"v":-1.3},{"t":8.13,"v":-1.0},{"t":8.15,"v":-1.5},{"t":8.18,"v":-1.6},{"t":8.21,"v":-1.7},{"t":8.23,"v":-1.2},{"t":8.26,"v":-0.8},{"t":8.28,"v":-1.0},{"t":8.31,"v":-0.5},{"t":8.33,"v":-1.2},{"t":8.36,"v":-1.0},{"t":8.39,"v":-1.0},{"t":8.41,"v":-1.2},{"t":8.44,"v":-0.8},{"t":8.46,"v":-0.3},{"t":8.49,"v":0.1},{"t":8.51,"v":0},{"t":8.54,"v":0.2},{"t":8.57,"v":0.6},{"t":8.59,"v":1.1},{"t":8.62,"v":0.3},{"t":8.64,"v":-0.2},{"t":8.67,"v":0.4},{"t":8.69,"v":0.2},{"t":8.72,"v":0.3},{"t":8.75,"v":0.2},{"t":8.77,"v":0.2},{"t":8.8,"v":-0.3},{"t":8.82,"v":0},{"t":8.85,"v":-0.2},{"t":8.87,"v":-0.2},{"t":8.9,"v":0.3},{"t":8.93,"v":0.7},{"t":8.95,"v":1.0},{"t":8.98,"v":0.9},{"t":9.0,"v":0.8},{"t":9.03,"v":0.9},{"t":9.05,"v":0.8},{"t":9.08,"v":0.6},{"t":9.12,"v":0.5},{"t":9.17,"v":0.3},{"t":9.22,"v":0.2},{"t":9.27,"v":0.3},{"t":9.32,"v":0.2},{"t":9.37,"v":0},{"t":9.42,"v":-0.1},{"t":9.48,"v":-0.2},{"t":9.53,"v":-0.1},{"t":9.58,"v":0},{"t":9.68,"v":0},{"t":9.73,"v":-0.1},{"t":9.76,"v":0},{"t":9.78,"v":0.5},{"t":9.81,"v":0},{"t":9.84,"v":1.5},{"t":9.86,"v":2.3},{"t":9.89,"v":1.5},{"t":9.91,"v":0.5},{"t":9.94,"v":-0.2},{"t":9.96,"v":1.0},{"t":9.99,"v":2.3},{"t":10.02,"v":1.2},{"t":10.04,"v":2.3},{"t":10.07,"v":1.8},{"t":10.09,"v":1.4},{"t":10.12,"v":1.3},{"t":10.14,"v":1.6},{"t":10.17,"v":2.0},{"t":10.2,"v":2.1},{"t":10.22,"v":1.5},{"t":10.25,"v":0.5},{"t":10.27,"v":0.8},{"t":10.3,"v":0},{"t":10.32,"v":-0.2},{"t":10.35,"v":0.5},{"t":10.37,"v":0},{"t":10.4,"v":-0.9},{"t":10.43,"v":-0.7},{"t":10.45,"v":-0.9},{"t":10.48,"v":-0.5},{"t":10.5,"v":0.3},{"t":10.53,"v":0},{"t":10.56,"v":1.0},{"t":10.58,"v":1.0},{"t":10.61,"v":0.5},{"t":10.63,"v":0.3},{"t":10.66,"v":0.5},{"t":10.68,"v":0.8},{"t":10.71,"v":1.0},{"t":10.73,"v":1.3},{"t":10.76,"v":1.9},{"t":10.78,"v":1.4},{"t":10.81,"v":1.3},{"t":10.83,"v":1.2},{"t":10.86,"v":0.7},{"t":10.89,"v":0.4},{"t":10.91,"v":0.3},{"t":10.94,"v":-0.2},{"t":10.96,"v":-0.5},{"t":10.99,"v":-0.2},{"t":11.01,"v":0},{"t":11.04,"v":-0.2},{"t":11.07,"v":0.2},{"t":11.09,"v":0.3},{"t":11.12,"v":0.8},{"t":11.14,"v":1.3},{"t":11.17,"v":2.3},{"t":11.2,"v":1.5},{"t":11.22,"v":1.0},{"t":11.25,"v":1.1},{"t":11.27,"v":0.5},{"t":11.3,"v":0.3},{"t":11.33,"v":0},{"t":11.35,"v":-0.3},{"t":11.38,"v":-0.3},{"t":11.4,"v":0},{"t":11.43,"v":-0.2},{"t":11.46,"v":0},{"t":11.48,"v":-1.0},{"t":11.51,"v":-1.5},{"t":11.53,"v":-2.1},{"t":11.56,"v":-1.8},{"t":11.61,"v":-1.6},{"t":11.66,"v":-1.3},{"t":11.71,"v":-1.0},{"t":11.76,"v":-0.8},{"t":11.81,"v":-0.8},{"t":11.87,"v":-0.9},{"t":11.92,"v":-0.8},{"t":11.97,"v":-0.7},{"t":12.05,"v":-0.6},{"t":12.12,"v":-0.5},{"t":12.36,"v":-0.5},{"t":12.38,"v":-0.6},{"t":12.41,"v":-0.7},{"t":12.43,"v":-0.8},{"t":12.46,"v":-0.6},{"t":12.48,"v":0},{"t":12.51,"v":1.0},{"t":12.54,"v":2.0},{"t":12.56,"v":2.8},{"t":12.59,"v":3.5},{"t":12.62,"v":3.0},{"t":12.64,"v":2.5},{"t":12.67,"v":3.5},{"t":12.69,"v":4.5},{"t":12.72,"v":5.1},{"t":12.74,"v":4.6},{"t":12.77,"v":4.0},{"t":12.8,"v":3.5},{"t":12.82,"v":3.0},{"t":12.85,"v":2.0},{"t":12.87,"v":3.0},{"t":12.9,"v":1.8},{"t":12.92,"v":0.3},{"t":12.95,"v":0.2},{"t":12.97,"v":-0.4},{"t":13.0,"v":0},{"t":13.03,"v":0.3},{"t":13.05,"v":0},{"t":13.07,"v":0},{"t":13.1,"v":0.3},{"t":13.13,"v":0.3},{"t":13.15,"v":0.8},{"t":13.18,"v":1.5},{"t":13.2,"v":2.2},{"t":13.23,"v":1.5},{"t":13.26,"v":0.2},{"t":13.28,"v":-0.5},{"t":13.31,"v":-0.7},{"t":13.33,"v":-0.9},{"t":13.36,"v":-1.2},{"t":13.38,"v":-1.5},{"t":13.41,"v":-1.9},{"t":13.43,"v":-2.9},{"t":13.46,"v":-2.3},{"t":13.48,"v":-1.0},{"t":13.51,"v":-0.8},{"t":13.53,"v":-1.0},{"t":13.56,"v":-2.3},{"t":13.59,"v":-1.5},{"t":13.61,"v":-1.3},{"t":13.64,"v":-1.8},{"t":13.66,"v":-1.3},{"t":13.69,"v":-1.5},{"t":13.71,"v":-1.2},{"t":13.74,"v":-1.7},{"t":13.76,"v":-1.2},{"t":13.79,"v":-0.8},{"t":13.82,"v":0.3},{"t":13.84,"v":0.5},{"t":13.87,"v":0.6},{"t":13.9,"v":0.8},{"t":13.92,"v":1.0},{"t":13.95,"v":0.9},{"t":13.97,"v":0.8},{"t":14.0,"v":0.5}
    ],
    "g_kal": [
      {"t":0,"v":0.4},{"t":0.03,"v":0.1},{"t":0.06,"v":-0.1},{"t":0.11,"v":-0.1},{"t":0.13,"v":-0.3},{"t":0.16,"v":-0.2},{"t":0.18,"v":-0.3},{"t":0.21,"v":-0.3},{"t":0.24,"v":-0.5},{"t":0.26,"v":-0.4},{"t":0.29,"v":-0.4},{"t":0.31,"v":-0.2},{"t":0.34,"v":-0.5},{"t":0.36,"v":-0.6},{"t":0.39,"v":-0.8},{"t":0.41,"v":-0.6},{"t":0.44,"v":-0.6},{"t":0.47,"v":-0.5},{"t":0.49,"v":-0.6},{"t":0.52,"v":-0.8},{"t":0.54,"v":-0.7},{"t":0.57,"v":-0.5},{"t":0.59,"v":-0.3},{"t":0.62,"v":-0.7},{"t":0.64,"v":-0.7},{"t":0.67,"v":-0.8},{"t":0.72,"v":-0.8},{"t":0.75,"v":-0.7},{"t":0.77,"v":-0.5},{"t":0.8,"v":-0.3},{"t":0.82,"v":-0.6},{"t":0.9,"v":-0.6},{"t":0.93,"v":-0.3},{"t":0.95,"v":-0.2},{"t":0.98,"v":-0.3},{"t":1.0,"v":-0.5},{"t":1.03,"v":-0.4},{"t":1.05,"v":-0.5},{"t":1.08,"v":-0.8},{"t":1.1,"v":-1.0},{"t":1.13,"v":-1.1},{"t":1.16,"v":-1.0},{"t":1.26,"v":-0.9},{"t":1.31,"v":-1.1},{"t":1.34,"v":-1.2},{"t":1.36,"v":-1.1},{"t":1.41,"v":-0.8},{"t":1.46,"v":-0.7},{"t":1.67,"v":-0.7},{"t":1.72,"v":-0.6},{"t":1.82,"v":-0.6},{"t":1.87,"v":-0.5},{"t":1.92,"v":-0.5},{"t":1.97,"v":-0.4},{"t":2.02,"v":-0.7},{"t":2.05,"v":-0.4},{"t":2.08,"v":0.3},{"t":2.1,"v":-0.2},{"t":2.13,"v":0.4},{"t":2.15,"v":0.3},{"t":2.18,"v":0.2},{"t":2.2,"v":-0.3},{"t":2.23,"v":0.5},{"t":2.26,"v":0.2},{"t":2.28,"v":-0.2},{"t":2.31,"v":-0.4},{"t":2.33,"v":-0.2},{"t":2.36,"v":1.0},{"t":2.38,"v":0.5},{"t":2.41,"v":-0.2},{"t":2.43,"v":-0.5},{"t":2.46,"v":-0.9},{"t":2.49,"v":-0.7},{"t":2.51,"v":-0.8},{"t":2.54,"v":-0.3},{"t":2.56,"v":0.6},{"t":2.59,"v":0.5},{"t":2.61,"v":0.2},{"t":2.64,"v":0.6},{"t":2.66,"v":1.0},{"t":2.69,"v":1.2},{"t":2.72,"v":1.4},{"t":2.74,"v":2.0},{"t":2.77,"v":2.2},{"t":2.79,"v":1.8},{"t":2.82,"v":2.0},{"t":2.84,"v":1.9},{"t":2.87,"v":2.0},{"t":2.9,"v":2.1},{"t":2.92,"v":1.9},{"t":2.95,"v":2.3},{"t":2.97,"v":1.8},{"t":3.0,"v":1.0},{"t":3.02,"v":0.4},{"t":3.05,"v":0},{"t":3.07,"v":-0.2},{"t":3.1,"v":0.1},{"t":3.13,"v":0},{"t":3.15,"v":-1.0},{"t":3.18,"v":-0.5},{"t":3.2,"v":-0.3},{"t":3.23,"v":-1.2},{"t":3.25,"v":-1.0},{"t":3.28,"v":-0.5},{"t":3.3,"v":-0.5},{"t":3.33,"v":-0.2},{"t":3.36,"v":0.1},{"t":3.38,"v":-0.1},{"t":3.41,"v":-0.3},{"t":3.43,"v":-0.6},{"t":3.46,"v":-1.0},{"t":3.48,"v":-0.7},{"t":3.51,"v":-0.5},{"t":3.53,"v":0.1},{"t":3.56,"v":0.3},{"t":3.59,"v":0.7},{"t":3.61,"v":0.9},{"t":3.64,"v":0.7},{"t":3.66,"v":0.6},{"t":3.69,"v":0.5},{"t":3.71,"v":0.3},{"t":3.74,"v":0.4},{"t":3.76,"v":0.6},{"t":3.79,"v":0.3},{"t":3.82,"v":0},{"t":3.84,"v":0},{"t":3.89,"v":-0.1},{"t":3.94,"v":0},{"t":4.0,"v":0},{"t":4.05,"v":-0.1},{"t":4.1,"v":-0.2},{"t":4.15,"v":-0.2},{"t":4.23,"v":-0.3},{"t":4.3,"v":-0.4},{"t":4.56,"v":-0.4},{"t":4.58,"v":-0.2},{"t":4.61,"v":0},{"t":4.63,"v":0},{"t":4.66,"v":2.0},{"t":4.68,"v":0.5},{"t":4.71,"v":0},{"t":4.74,"v":0.3},{"t":4.77,"v":0.3},{"t":4.8,"v":0.2},{"t":4.82,"v":0},{"t":4.85,"v":-0.3},{"t":4.87,"v":-0.3},{"t":4.9,"v":-0.8},{"t":4.93,"v":-0.7},{"t":4.95,"v":-0.4},{"t":4.98,"v":-0.2},{"t":5.0,"v":-0.6},{"t":5.03,"v":0},{"t":5.05,"v":-0.8},{"t":5.08,"v":-0.8},{"t":5.1,"v":-0.9},{"t":5.13,"v":-0.6},{"t":5.16,"v":-0.4},{"t":5.18,"v":0},{"t":5.21,"v":0.2},{"t":5.23,"v":-0.3},{"t":5.26,"v":-0.3},{"t":5.28,"v":0},{"t":5.31,"v":0.3},{"t":5.33,"v":0.4},{"t":5.36,"v":1.1},{"t":5.39,"v":0.8},{"t":5.41,"v":0.9},{"t":5.44,"v":0.6},{"t":5.46,"v":0.3},{"t":5.49,"v":0.1},{"t":5.51,"v":-0.2},{"t":5.54,"v":0.4},{"t":5.56,"v":0.5},{"t":5.59,"v":0.6},{"t":5.62,"v":0.8},{"t":5.64,"v":0.5},{"t":5.67,"v":0.5},{"t":5.69,"v":0.3},{"t":5.72,"v":0.5},{"t":5.74,"v":0.2},{"t":5.77,"v":0.4},{"t":5.79,"v":-0.2},{"t":5.82,"v":-0.6},{"t":5.85,"v":-1.0},{"t":5.87,"v":-1.2},{"t":5.9,"v":-1.2},{"t":5.92,"v":-0.6},{"t":5.95,"v":-0.6},{"t":5.97,"v":-0.9},{"t":6.0,"v":-1.0},{"t":6.03,"v":-0.7},{"t":6.05,"v":0},{"t":6.08,"v":0.2},{"t":6.1,"v":-0.6},{"t":6.13,"v":-0.9},{"t":6.15,"v":-1.2},{"t":6.18,"v":-1.3},{"t":6.21,"v":-1.4},{"t":6.24,"v":-0.9},{"t":6.26,"v":-1.3},{"t":6.29,"v":-1.0},{"t":6.42,"v":-1.0},{"t":6.47,"v":-0.8},{"t":6.52,"v":-0.6},{"t":6.57,"v":-0.5},{"t":6.62,"v":-0.5},{"t":6.67,"v":-0.6},{"t":6.72,"v":-0.6},{"t":6.8,"v":-0.5},{"t":6.88,"v":-0.4},{"t":6.96,"v":-0.35},{"t":7.03,"v":-0.3},{"t":7.11,"v":-0.2},{"t":7.16,"v":-0.2},{"t":7.19,"v":-0.3},{"t":7.21,"v":-0.4},{"t":7.24,"v":-0.5},{"t":7.26,"v":-0.4},{"t":7.29,"v":-0.2},{"t":7.32,"v":0},{"t":7.34,"v":0},{"t":7.37,"v":-0.8},{"t":7.39,"v":-1.5},{"t":7.42,"v":-0.8},{"t":7.44,"v":0},{"t":7.47,"v":-0.8},{"t":7.49,"v":-1.8},{"t":7.51,"v":-1.2},{"t":7.54,"v":1.0},{"t":7.56,"v":1.5},{"t":7.59,"v":1.5},{"t":7.61,"v":2.2},{"t":7.64,"v":1.7},{"t":7.67,"v":1.5},{"t":7.69,"v":1.5},{"t":7.72,"v":1.4},{"t":7.74,"v":1.2},{"t":7.77,"v":1.0},{"t":7.79,"v":0.8},{"t":7.82,"v":0},{"t":7.85,"v":-0.3},{"t":7.87,"v":-0.5},{"t":7.9,"v":-0.6},{"t":7.92,"v":-1.0},{"t":7.95,"v":-0.5},{"t":7.97,"v":-0.8},{"t":8.0,"v":-1.5},{"t":8.03,"v":-2.5},{"t":8.05,"v":-1.8},{"t":8.08,"v":-1.3},{"t":8.1,"v":-1.2},{"t":8.13,"v":-1.2},{"t":8.15,"v":-1.5},{"t":8.18,"v":-1.7},{"t":8.21,"v":-1.6},{"t":8.23,"v":-1.4},{"t":8.26,"v":-1.0},{"t":8.28,"v":-1.3},{"t":8.31,"v":-0.8},{"t":8.33,"v":-1.4},{"t":8.36,"v":-1.2},{"t":8.39,"v":-1.4},{"t":8.41,"v":-1.5},{"t":8.44,"v":-1.0},{"t":8.46,"v":-0.6},{"t":8.49,"v":-0.4},{"t":8.51,"v":-0.4},{"t":8.54,"v":-0.2},{"t":8.57,"v":0.3},{"t":8.59,"v":0.6},{"t":8.62,"v":0.1},{"t":8.64,"v":-0.2},{"t":8.67,"v":0.2},{"t":8.75,"v":0.2},{"t":8.77,"v":0.1},{"t":8.8,"v":-0.3},{"t":8.82,"v":0},{"t":8.85,"v":-0.2},{"t":8.87,"v":-0.1},{"t":8.9,"v":0.3},{"t":8.93,"v":0.5},{"t":8.95,"v":0.8},{"t":8.98,"v":0.8},{"t":9.0,"v":0.9},{"t":9.03,"v":0.9},{"t":9.05,"v":1.0},{"t":9.08,"v":0.8},{"t":9.12,"v":0.7},{"t":9.17,"v":0.6},{"t":9.27,"v":0.6},{"t":9.32,"v":0.5},{"t":9.37,"v":0.3},{"t":9.42,"v":0.1},{"t":9.48,"v":0},{"t":9.53,"v":0.1},{"t":9.68,"v":0.1},{"t":9.73,"v":0},{"t":9.76,"v":0.1},{"t":9.78,"v":0.5},{"t":9.81,"v":0},{"t":9.84,"v":1.0},{"t":9.86,"v":1.8},{"t":9.89,"v":1.2},{"t":9.91,"v":0.5},{"t":9.94,"v":-0.2},{"t":9.96,"v":1.0},{"t":9.99,"v":1.8},{"t":10.02,"v":1.3},{"t":10.04,"v":2.0},{"t":10.07,"v":1.8},{"t":10.09,"v":1.5},{"t":10.12,"v":1.3},{"t":10.14,"v":1.6},{"t":10.17,"v":2.1},{"t":10.2,"v":2.0},{"t":10.22,"v":1.5},{"t":10.25,"v":1.0},{"t":10.27,"v":1.1},{"t":10.3,"v":0.7},{"t":10.32,"v":0.5},{"t":10.35,"v":1.0},{"t":10.37,"v":0.5},{"t":10.4,"v":0},{"t":10.43,"v":0.2},{"t":10.45,"v":0},{"t":10.48,"v":0.2},{"t":10.5,"v":0.8},{"t":10.53,"v":0.5},{"t":10.56,"v":1.1},{"t":10.58,"v":1.1},{"t":10.61,"v":0.8},{"t":10.63,"v":0.7},{"t":10.66,"v":0.8},{"t":10.68,"v":1.0},{"t":10.71,"v":1.2},{"t":10.73,"v":1.4},{"t":10.76,"v":1.9},{"t":10.78,"v":1.4},{"t":10.81,"v":1.4},{"t":10.83,"v":1.3},{"t":10.86,"v":1.0},{"t":10.89,"v":0.7},{"t":10.91,"v":0.6},{"t":10.94,"v":0.2},{"t":10.96,"v":0},{"t":10.99,"v":0.2},{"t":11.04,"v":0.2},{"t":11.07,"v":0.4},{"t":11.09,"v":0.5},{"t":11.12,"v":0.8},{"t":11.14,"v":1.2},{"t":11.17,"v":1.9},{"t":11.2,"v":1.4},{"t":11.22,"v":1.0},{"t":11.25,"v":1.0},{"t":11.27,"v":0.5},{"t":11.3,"v":0.3},{"t":11.33,"v":0},{"t":11.35,"v":-0.3},{"t":11.38,"v":-0.5},{"t":11.4,"v":-0.2},{"t":11.43,"v":-0.3},{"t":11.46,"v":0},{"t":11.48,"v":-0.8},{"t":11.51,"v":-1.3},{"t":11.53,"v":-1.9},{"t":11.56,"v":-1.8},{"t":11.61,"v":-1.7},{"t":11.66,"v":-1.5},{"t":11.71,"v":-1.3},{"t":11.76,"v":-1.2},{"t":11.81,"v":-1.3},{"t":11.87,"v":-1.3},{"t":11.92,"v":-1.2},{"t":11.97,"v":-1.0},{"t":12.05,"v":-0.9},{"t":12.12,"v":-0.8},{"t":12.2,"v":-0.7},{"t":12.36,"v":-0.7},{"t":12.41,"v":-0.8},{"t":12.43,"v":-1.0},{"t":12.46,"v":-0.9},{"t":12.48,"v":0},{"t":12.51,"v":1.0},{"t":12.54,"v":2.0},{"t":12.56,"v":2.5},{"t":12.59,"v":3.0},{"t":12.62,"v":2.5},{"t":12.64,"v":2.2},{"t":12.67,"v":3.0},{"t":12.69,"v":4.0},{"t":12.72,"v":4.6},{"t":12.74,"v":4.2},{"t":12.77,"v":4.0},{"t":12.8,"v":3.0},{"t":12.82,"v":2.5},{"t":12.85,"v":3.3},{"t":12.87,"v":3.0},{"t":12.9,"v":2.0},{"t":12.92,"v":1.0},{"t":12.95,"v":0.7},{"t":12.97,"v":0.3},{"t":13.0,"v":0.5},{"t":13.03,"v":0.8},{"t":13.05,"v":0.5},{"t":13.07,"v":0.4},{"t":13.1,"v":0.5},{"t":13.13,"v":0.5},{"t":13.15,"v":0.8},{"t":13.18,"v":1.5},{"t":13.2,"v":2.0},{"t":13.23,"v":1.5},{"t":13.26,"v":0.8},{"t":13.28,"v":-0.2},{"t":13.31,"v":-0.5},{"t":13.33,"v":-0.7},{"t":13.36,"v":-1.0},{"t":13.38,"v":-1.2},{"t":13.41,"v":-1.5},{"t":13.43,"v":-2.3},{"t":13.46,"v":-2.2},{"t":13.48,"v":-1.0},{"t":13.51,"v":-1.0},{"t":13.53,"v":-1.2},{"t":13.56,"v":-2.5},{"t":13.59,"v":-1.8},{"t":13.61,"v":-1.5},{"t":13.64,"v":-2.0},{"t":13.66,"v":-1.5},{"t":13.69,"v":-1.7},{"t":13.71,"v":-1.4},{"t":13.74,"v":-2.0},{"t":13.76,"v":-1.5},{"t":13.79,"v":-1.2},{"t":13.82,"v":0},{"t":13.84,"v":0.3},{"t":13.87,"v":0.4},{"t":13.9,"v":0.6},{"t":13.92,"v":0.7},{"t":13.95,"v":0.6},{"t":13.97,"v":0.3},{"t":14.0,"v":0}
    ],
    "g_nr": [
      {"t":0,"v":-3.3},{"t":0.03,"v":-3.6},{"t":0.06,"v":-3.5},{"t":0.08,"v":-3.0},{"t":0.11,"v":-3.0},{"t":0.13,"v":-2.7},{"t":0.16,"v":-2.4},{"t":0.18,"v":-2.3},{"t":0.21,"v":-2.5},{"t":0.24,"v":-2.4},{"t":0.26,"v":-2.4},{"t":0.29,"v":-2.0},{"t":0.31,"v":-1.8},{"t":0.34,"v":-1.7},{"t":0.36,"v":-2.0},{"t":0.39,"v":-2.3},{"t":0.41,"v":-2.2},{"t":0.44,"v":-1.9},{"t":0.47,"v":-1.6},{"t":0.49,"v":-1.5},{"t":0.52,"v":-1.6},{"t":0.54,"v":-1.5},{"t":0.57,"v":-1.3},{"t":0.59,"v":-1.2},{"t":0.62,"v":-1.6},{"t":0.64,"v":-1.6},{"t":0.67,"v":-1.5},{"t":0.7,"v":-1.6},{"t":0.72,"v":-1.4},{"t":0.75,"v":-1.6},{"t":0.77,"v":-1.3},{"t":0.8,"v":-1.2},{"t":0.82,"v":-1.0},{"t":0.85,"v":-0.7},{"t":0.87,"v":-0.8},{"t":0.9,"v":-0.7},{"t":0.93,"v":-0.6},{"t":0.95,"v":-0.8},{"t":0.98,"v":-0.5},{"t":1.0,"v":-0.6},{"t":1.03,"v":-0.5},{"t":1.05,"v":-0.3},{"t":1.08,"v":-0.4},{"t":1.1,"v":-0.5},{"t":1.13,"v":-0.6},{"t":1.16,"v":-0.4},{"t":1.18,"v":-0.5},{"t":1.21,"v":-0.3},{"t":1.23,"v":0.3},{"t":1.26,"v":-0.5},{"t":1.28,"v":-0.7},{"t":1.31,"v":-0.3},{"t":1.34,"v":-0.4},{"t":1.36,"v":-0.3},{"t":1.39,"v":-0.6},{"t":1.41,"v":-0.3},{"t":1.44,"v":-0.5},{"t":1.46,"v":-0.2},{"t":1.49,"v":-0.4},{"t":1.51,"v":-0.5},{"t":1.54,"v":-0.5},{"t":1.57,"v":-0.4},{"t":1.59,"v":-0.3},{"t":1.62,"v":-0.5},{"t":1.64,"v":-0.7},{"t":1.67,"v":-0.5},{"t":1.69,"v":-0.6},{"t":1.72,"v":-0.5},{"t":1.74,"v":-0.7},{"t":1.77,"v":-0.6},{"t":1.8,"v":-0.4},{"t":1.82,"v":-0.6},{"t":1.85,"v":-0.4},{"t":1.87,"v":-0.6},{"t":1.9,"v":-0.5},{"t":1.92,"v":-0.3},{"t":1.95,"v":-0.4},{"t":1.97,"v":-0.5},{"t":2.0,"v":-0.4},{"t":2.03,"v":-0.5},{"t":2.05,"v":-0.3},{"t":2.08,"v":-0.2},{"t":2.1,"v":-0.3},{"t":2.13,"v":-0.1},{"t":2.15,"v":0.2},{"t":2.18,"v":0.1},{"t":2.2,"v":0},{"t":2.23,"v":0.2},{"t":2.26,"v":0.1},{"t":2.28,"v":0.3},{"t":2.31,"v":0.2},{"t":2.33,"v":0.1},{"t":2.36,"v":0.1},{"t":2.38,"v":0.2},{"t":2.41,"v":0.5},{"t":2.43,"v":0.8},{"t":2.46,"v":1.0},{"t":2.49,"v":2.8},{"t":2.51,"v":3.0},{"t":2.54,"v":3.0},{"t":2.55,"v":5.6},{"t":2.57,"v":1.5},{"t":2.59,"v":1.0},{"t":2.6,"v":3.0},{"t":2.62,"v":1.0},{"t":2.64,"v":2.5},{"t":2.66,"v":1.0},{"t":2.69,"v":2.5},{"t":2.72,"v":1.5},{"t":2.74,"v":1.0},{"t":2.77,"v":0.2},{"t":2.79,"v":0.5},{"t":2.82,"v":-2.5},{"t":2.84,"v":-3.5},{"t":2.87,"v":-3.2},{"t":2.9,"v":-5.0},{"t":2.92,"v":-5.3},{"t":2.95,"v":-6.2},{"t":2.97,"v":-6.7},{"t":3.0,"v":-6.5},{"t":3.02,"v":-6.8},{"t":3.05,"v":-7.3},{"t":3.07,"v":-7.6},{"t":3.1,"v":-7.4},{"t":3.13,"v":-7.2},{"t":3.15,"v":-7.5},{"t":3.18,"v":-7.3},{"t":3.2,"v":-7.0},{"t":3.23,"v":-6.8},{"t":3.24,"v":-5.8},{"t":3.27,"v":-6.4},{"t":3.29,"v":-6.2},{"t":3.32,"v":-5.7},{"t":3.35,"v":-5.5},{"t":3.37,"v":-5.4},{"t":3.4,"v":-5.0},{"t":3.42,"v":-5.0},{"t":3.45,"v":-4.6},{"t":3.47,"v":-4.3},{"t":3.5,"v":-4.4},{"t":3.52,"v":-4.0},{"t":3.55,"v":-4.3},{"t":3.58,"v":-3.8},{"t":3.6,"v":-3.3},{"t":3.63,"v":-2.2},{"t":3.65,"v":-1.7},{"t":3.68,"v":-0.5},{"t":3.7,"v":0.5},{"t":3.73,"v":1.5},{"t":3.75,"v":1.3},{"t":3.78,"v":2.2},{"t":3.81,"v":1.0},{"t":3.83,"v":3.0},{"t":3.86,"v":4.2},{"t":3.88,"v":4.2},{"t":3.91,"v":2.6},{"t":3.93,"v":2.6},{"t":3.96,"v":3.5},{"t":3.98,"v":4.3},{"t":4.01,"v":2.0},{"t":4.04,"v":4.3},{"t":4.06,"v":4.5},{"t":4.08,"v":5.3},{"t":4.11,"v":4.0},{"t":4.13,"v":2.5},{"t":4.16,"v":2.8},{"t":4.18,"v":3.5},{"t":4.21,"v":2.7},{"t":4.24,"v":1.3},{"t":4.26,"v":1.3},{"t":4.29,"v":1.5},{"t":4.31,"v":2.1},{"t":4.34,"v":1.3},{"t":4.36,"v":0.8},{"t":4.39,"v":1.0},{"t":4.41,"v":2.1},{"t":4.44,"v":1.5},{"t":4.47,"v":0.8},{"t":4.49,"v":2.1},{"t":4.52,"v":1.5},{"t":4.54,"v":1.3},{"t":4.57,"v":1.3},{"t":4.59,"v":0.3},{"t":4.62,"v":-1.5},{"t":4.65,"v":-3.5},{"t":4.67,"v":-4.3},{"t":4.7,"v":-5.1},{"t":4.72,"v":-4.8},{"t":4.75,"v":-4.3},{"t":4.77,"v":-4.1},{"t":4.8,"v":-4.4},{"t":4.82,"v":-4.5},{"t":4.85,"v":-4.4},{"t":4.87,"v":-4.8},{"t":4.9,"v":-4.7},{"t":4.93,"v":-4.5},{"t":4.95,"v":-4.5},{"t":4.98,"v":-4.4},{"t":5.0,"v":-4.4},{"t":5.03,"v":-4.3},{"t":5.05,"v":-4.4},{"t":5.08,"v":-4.3},{"t":5.1,"v":-4.5},{"t":5.13,"v":-4.3},{"t":5.16,"v":-4.1},{"t":5.18,"v":-3.9},{"t":5.21,"v":-3.8},{"t":5.23,"v":-3.5},{"t":5.26,"v":-3.2},{"t":5.28,"v":-3.0},{"t":5.31,"v":-2.5},{"t":5.33,"v":-2.2},{"t":5.36,"v":-2.0},{"t":5.39,"v":-2.4},{"t":5.41,"v":-2.3},{"t":5.44,"v":-2.2},{"t":5.46,"v":-2.0},{"t":5.49,"v":-2.1},{"t":5.51,"v":-1.8},{"t":5.54,"v":-1.9},{"t":5.56,"v":-1.5},{"t":5.59,"v":-1.5},{"t":5.62,"v":-1.4},{"t":5.64,"v":-1.5},{"t":5.67,"v":-1.7},{"t":5.69,"v":-1.8},{"t":5.72,"v":-1.5},{"t":5.74,"v":-1.3},{"t":5.77,"v":-1.0},{"t":5.79,"v":-0.8},{"t":5.82,"v":-1.0},{"t":5.85,"v":-0.9},{"t":5.87,"v":-0.9},{"t":5.9,"v":-1.0},{"t":5.92,"v":-1.0},{"t":5.95,"v":-0.9},{"t":5.97,"v":-0.8},{"t":6.0,"v":-0.7},{"t":6.03,"v":-0.5},{"t":6.05,"v":-0.7},{"t":6.08,"v":-0.5},{"t":6.1,"v":-0.2},{"t":6.13,"v":-0.3},{"t":6.15,"v":-0.4},{"t":6.18,"v":-0.2},{"t":6.24,"v":-0.4},{"t":6.29,"v":-0.2},{"t":6.34,"v":-0.4},{"t":6.38,"v":0},{"t":6.42,"v":-0.5},{"t":6.47,"v":-0.2},{"t":6.52,"v":-0.1},{"t":6.57,"v":-0.2},{"t":6.64,"v":0.1},{"t":6.67,"v":-0.3},{"t":6.72,"v":-0.2},{"t":6.78,"v":-0.3},{"t":6.83,"v":-0.2},{"t":6.88,"v":-0.2},{"t":6.93,"v":-0.3},{"t":6.98,"v":-0.2},{"t":7.03,"v":-0.2},{"t":7.08,"v":0},{"t":7.14,"v":-0.3},{"t":7.16,"v":-0.5},{"t":7.21,"v":-0.3},{"t":7.26,"v":-0.2},{"t":7.29,"v":0.5},{"t":7.32,"v":0.3},{"t":7.34,"v":0.2},{"t":7.37,"v":0.5},{"t":7.39,"v":0.5},{"t":7.42,"v":0.9},{"t":7.44,"v":0.8},{"t":7.47,"v":0.5},{"t":7.5,"v":0.5},{"t":7.52,"v":0.3},{"t":7.55,"v":0.8},{"t":7.57,"v":1.0},{"t":7.6,"v":1.3},{"t":7.62,"v":1.5},{"t":7.65,"v":1.7},{"t":7.68,"v":1.8},{"t":7.7,"v":3.6},{"t":7.73,"v":2.7},{"t":7.75,"v":3.5},{"t":7.78,"v":3.7},{"t":7.8,"v":2.0},{"t":7.83,"v":1.0},{"t":7.86,"v":0.5},{"t":7.88,"v":2.0},{"t":7.91,"v":0.5},{"t":7.92,"v":2.8},{"t":7.94,"v":4.0},{"t":7.96,"v":0.5},{"t":7.98,"v":-1.5},{"t":8.01,"v":-2.3},{"t":8.04,"v":-2.5},{"t":8.06,"v":-3.0},{"t":8.09,"v":-4.0},{"t":8.11,"v":-5.7},{"t":8.14,"v":-6.0},{"t":8.16,"v":-6.3},{"t":8.19,"v":-7.0},{"t":8.22,"v":-7.3},{"t":8.24,"v":-7.8},{"t":8.27,"v":-8.0},{"t":8.28,"v":-6.8},{"t":8.31,"v":-7.0},{"t":8.33,"v":-7.9},{"t":8.36,"v":-8.0},{"t":8.39,"v":-8.2},{"t":8.41,"v":-7.5},{"t":8.44,"v":-6.7},{"t":8.46,"v":-6.3},{"t":8.49,"v":-7.0},{"t":8.51,"v":-6.0},{"t":8.54,"v":-6.0},{"t":8.57,"v":-5.3},{"t":8.59,"v":-5.3},{"t":8.62,"v":-5.2},{"t":8.64,"v":-5.0},{"t":8.67,"v":-4.5},{"t":8.69,"v":-4.0},{"t":8.72,"v":-4.2},{"t":8.75,"v":-4.0},{"t":8.77,"v":-3.5},{"t":8.8,"v":-3.3},{"t":8.82,"v":-2.5},{"t":8.85,"v":-1.8},{"t":8.87,"v":0},{"t":8.9,"v":1.0},{"t":8.93,"v":0.5},{"t":8.95,"v":0.8},{"t":8.98,"v":1.5},{"t":9.0,"v":3.0},{"t":9.03,"v":4.5},{"t":9.05,"v":3.0},{"t":9.08,"v":3.0},{"t":9.11,"v":3.8},{"t":9.13,"v":3.5},{"t":9.16,"v":3.0},{"t":9.18,"v":3.8},{"t":9.21,"v":4.6},{"t":9.23,"v":3.0},{"t":9.26,"v":4.0},{"t":9.29,"v":3.2},{"t":9.31,"v":3.2},{"t":9.34,"v":3.2},{"t":9.36,"v":5.6},{"t":9.37,"v":1.7},{"t":9.4,"v":1.6},{"t":9.45,"v":1.6},{"t":9.5,"v":1.5},{"t":9.52,"v":-1.5},{"t":9.54,"v":1.0},{"t":9.56,"v":1.6},{"t":9.59,"v":1.7},{"t":9.61,"v":1.1},{"t":9.64,"v":1.6},{"t":9.67,"v":1.1},{"t":9.69,"v":1.7},{"t":9.72,"v":1.1},{"t":9.74,"v":1.7},{"t":9.77,"v":1.1},{"t":9.78,"v":0.5},{"t":9.81,"v":-1.5},{"t":9.84,"v":-3.0},{"t":9.86,"v":-4.5},{"t":9.89,"v":-6.5},{"t":9.9,"v":-6.8},{"t":9.92,"v":-6.0},{"t":9.95,"v":-5.2},{"t":9.97,"v":-5.0},{"t":10.0,"v":-5.3},{"t":10.03,"v":-5.5},{"t":10.05,"v":-5.2},{"t":10.08,"v":-5.3},{"t":10.1,"v":-5.0},{"t":10.13,"v":-5.0},{"t":10.15,"v":-4.8},{"t":10.21,"v":-4.8},{"t":10.23,"v":-4.6},{"t":10.26,"v":-4.7},{"t":10.28,"v":-4.5},{"t":10.31,"v":-4.5},{"t":10.33,"v":-4.2},{"t":10.36,"v":-4.2},{"t":10.39,"v":-4.0},{"t":10.41,"v":-3.7},{"t":10.44,"v":-3.6},{"t":10.46,"v":-3.2},{"t":10.49,"v":-3.0},{"t":10.51,"v":-2.5},{"t":10.54,"v":-2.0},{"t":10.57,"v":-1.9},{"t":10.59,"v":-2.0},{"t":10.64,"v":-2.0},{"t":10.67,"v":-1.8},{"t":10.69,"v":-1.5},{"t":10.72,"v":-1.3},{"t":10.8,"v":-1.3},{"t":10.82,"v":-1.2},{"t":10.85,"v":-1.0},{"t":10.87,"v":-1.1},{"t":10.9,"v":-1.0},{"t":10.93,"v":-1.0},{"t":10.95,"v":-0.9},{"t":10.98,"v":-0.7},{"t":11.0,"v":-0.4},{"t":11.03,"v":-0.6},{"t":11.05,"v":-0.8},{"t":11.08,"v":-0.9},{"t":11.11,"v":-0.7},{"t":11.13,"v":-0.5},{"t":11.16,"v":-0.3},{"t":11.18,"v":-0.2},{"t":11.21,"v":0},{"t":11.23,"v":-0.2},{"t":11.26,"v":0.3},{"t":11.29,"v":0.2},{"t":11.31,"v":0},{"t":11.34,"v":-0.3},{"t":11.36,"v":-0.5},{"t":11.39,"v":-0.3},{"t":11.41,"v":0.2},{"t":11.44,"v":-0.3},{"t":11.47,"v":0.3},{"t":11.49,"v":0},{"t":11.52,"v":0},{"t":11.54,"v":0.1},{"t":11.57,"v":-0.3},{"t":11.59,"v":0},{"t":11.62,"v":-0.2},{"t":11.65,"v":0},{"t":11.67,"v":-0.1},{"t":11.7,"v":-0.1},{"t":11.72,"v":-0.3},{"t":11.75,"v":-0.1},{"t":11.77,"v":0},{"t":11.8,"v":-0.2},{"t":11.83,"v":-0.3},{"t":11.85,"v":-0.2},{"t":11.88,"v":-0.4},{"t":11.9,"v":-0.5},{"t":11.93,"v":-0.3},{"t":11.95,"v":-0.4},{"t":11.98,"v":0},{"t":12.01,"v":-0.5},{"t":12.03,"v":-0.4},{"t":12.08,"v":-0.3},{"t":12.11,"v":-0.4},{"t":12.16,"v":-0.3},{"t":12.18,"v":-0.5},{"t":12.21,"v":-0.4},{"t":12.24,"v":0.2},{"t":12.26,"v":-0.4},{"t":12.29,"v":-0.5},{"t":12.31,"v":-0.4},{"t":12.34,"v":-0.5},{"t":12.37,"v":-0.4},{"t":12.39,"v":-0.5},{"t":12.42,"v":-0.6},{"t":12.44,"v":-0.3},{"t":12.47,"v":0},{"t":12.49,"v":0.5},{"t":12.52,"v":1.0},{"t":12.55,"v":1.5},{"t":12.57,"v":1.3},{"t":12.6,"v":1.5},{"t":12.62,"v":1.9},{"t":12.65,"v":1.0},{"t":12.68,"v":1.5},{"t":12.7,"v":2.2},{"t":12.73,"v":2.5},{"t":12.75,"v":2.0},{"t":12.78,"v":1.5},{"t":12.8,"v":2.0},{"t":12.83,"v":3.0},{"t":12.85,"v":4.5},{"t":12.88,"v":4.0},{"t":12.9,"v":2.5},{"t":12.91,"v":5.3},{"t":12.93,"v":4.0},{"t":12.96,"v":4.5},{"t":12.98,"v":3.0},{"t":13.01,"v":2.0},{"t":13.03,"v":1.8},{"t":13.06,"v":1.0},{"t":13.09,"v":2.0},{"t":13.11,"v":3.0},{"t":13.14,"v":1.5},{"t":13.16,"v":-1.0},{"t":13.19,"v":-2.0},{"t":13.21,"v":-2.2},{"t":13.24,"v":-4.0},{"t":13.26,"v":-4.5},{"t":13.29,"v":-5.3},{"t":13.31,"v":-6.0},{"t":13.34,"v":-6.5},{"t":13.37,"v":-7.0},{"t":13.39,"v":-7.5},{"t":13.4,"v":-8.4},{"t":13.43,"v":-7.8},{"t":13.46,"v":-8.0},{"t":13.48,"v":-7.8},{"t":13.51,"v":-8.2},{"t":13.53,"v":-8.5},{"t":13.56,"v":-8.3},{"t":13.59,"v":-7.6},{"t":13.61,"v":-7.0},{"t":13.64,"v":-7.1},{"t":13.66,"v":-7.0},{"t":13.69,"v":-7.3},{"t":13.71,"v":-6.5},{"t":13.74,"v":-6.2},{"t":13.76,"v":-6.0},{"t":13.79,"v":-5.7},{"t":13.82,"v":-5.4},{"t":13.84,"v":-5.2},{"t":13.87,"v":-5.3},{"t":13.9,"v":-5.0},{"t":13.92,"v":-4.8},{"t":13.95,"v":-5.0},{"t":13.97,"v":-5.3},{"t":14.0,"v":-5.5}
    ]
  },
  "vconcat": [
    {
      "width": 2620,
      "height": 1123,
      "encoding": {
        "x": {"field": "t", "type": "quantitative", "scale": {"domain": [0, 14], "nice": false},
              "axis": {"values": [0, 2, 4, 6, 8, 10, 12, 14], "labels": false, "title": null,
                       "gridOpacity": {"condition": {"test": "datum.value <= 0 || datum.value >= 14", "value": 0}, "value": 1}}},
        "y": {"field": "v", "type": "quantitative", "scale": {"domain": [-12, 12], "nice": false},
              "axis": {"values": [-12, -9, -6, -3, 0, 3, 6, 9, 12], "title": "position error Δx (mm)",
                       "gridOpacity": {"condition": {"test": "abs(datum.value) >= 12", "value": 0}, "value": 1}}}
      },
      "layer": [
        {"data": {"name": "x_com"}, "mark": {"type": "line"},
         "encoding": {"color": {"datum": "Com", "type": "nominal",
           "scale": {"domain": ["Com", "Kal", "NR"], "range": ["#ff0000", "#00ff00", "#bf8040"]},
           "legend": {"orient": "none", "legendX": 2286, "legendY": 24, "title": null,
                      "symbolType": "stroke", "symbolSize": 7000, "symbolStrokeWidth": 5,
                      "labelFont": "Liberation Serif", "labelFontSize": 64, "labelColor": "black",
                      "labelOffset": 22, "rowPadding": 4, "padding": 12,
                      "strokeColor": "black", "fillColor": "white", "cornerRadius": 0}}}},
        {"data": {"name": "x_kal"}, "mark": {"type": "line"},
         "encoding": {"color": {"datum": "Kal", "type": "nominal"}}},
        {"data": {"name": "x_nr"}, "mark": {"type": "line"},
         "encoding": {"color": {"datum": "NR", "type": "nominal"}}}
      ]
    },
    {
      "width": 2620,
      "height": 1123,
      "encoding": {
        "x": {"field": "t", "type": "quantitative", "scale": {"domain": [0, 14], "nice": false},
              "axis": {"values": [0, 2, 4, 6, 8, 10, 12, 14], "labels": false, "title": null,
                       "gridOpacity": {"condition": {"test": "datum.value <= 0 || datum.value >= 14", "value": 0}, "value": 1}}},
        "y": {"field": "v", "type": "quantitative", "scale": {"domain": [-12, 12], "nice": false},
              "axis": {"values": [-12, -9, -6, -3, 0, 3, 6, 9, 12], "title": "position error Δy (mm)",
                       "gridOpacity": {"condition": {"test": "abs(datum.value) >= 12", "value": 0}, "value": 1}}}
      },
      "layer": [
        {"data": {"name": "y_com"}, "mark": {"type": "line"},
         "encoding": {"color": {"datum": "Com", "type": "nominal",
           "scale": {"domain": ["Com", "Kal", "NR"], "range": ["#ff0000", "#00ff00", "#bf8040"]}, "legend": null}}},
        {"data": {"name": "y_kal"}, "mark": {"type": "line"},
         "encoding": {"color": {"datum": "Kal", "type": "nominal", "legend": null}}},
        {"data": {"name": "y_nr"}, "mark": {"type": "line"},
         "encoding": {"color": {"datum": "NR", "type": "nominal", "legend": null}}}
      ]
    },
    {
      "width": 2620,
      "height": 844,
      "encoding": {
        "x": {"field": "t", "type": "quantitative", "scale": {"domain": [0, 14], "nice": false},
              "axis": {"values": [0, 2, 4, 6, 8, 10, 12, 14], "title": "time t (s)",
                       "gridOpacity": {"condition": {"test": "datum.value <= 0 || datum.value >= 14", "value": 0}, "value": 1}}},
        "y": {"field": "v", "type": "quantitative", "scale": {"domain": [-9, 9], "nice": false},
              "axis": {"values": [-9, -6, -3, 0, 3, 6, 9], "title": "orientation error Δγ (°)",
                       "gridOpacity": {"condition": {"test": "abs(datum.value) >= 9", "value": 0}, "value": 1}}}
      },
      "layer": [
        {"data": {"name": "g_com"}, "mark": {"type": "line"},
         "encoding": {"color": {"datum": "Com", "type": "nominal",
           "scale": {"domain": ["Com", "Kal", "NR"], "range": ["#ff0000", "#00ff00", "#bf8040"]}, "legend": null}}},
        {"data": {"name": "g_kal"}, "mark": {"type": "line"},
         "encoding": {"color": {"datum": "Kal", "type": "nominal", "legend": null}}},
        {"data": {"name": "g_nr"}, "mark": {"type": "line"},
         "encoding": {"color": {"datum": "NR", "type": "nominal", "legend": null}}}
      ]
    }
  ],
  "spacing": 97,
  "bounds": "flush",
  "resolve": {"scale": {"color": "independent", "x": "independent", "y": "independent"}}
}
